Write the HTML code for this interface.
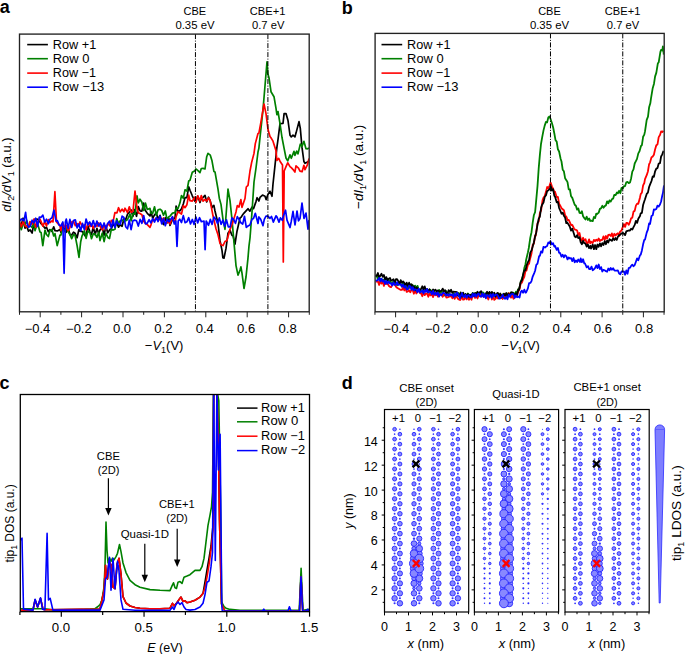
<!DOCTYPE html>
<html><head><meta charset="utf-8"><style>
html,body{margin:0;padding:0;background:#fff;overflow:hidden;}
svg{display:block;font-family:"Liberation Sans", sans-serif;}
</style></head><body>
<svg width="685" height="654" viewBox="0 0 685 654">
<rect width="685" height="654" fill="#fff"/>
<defs><clipPath id="ca"><rect x="19.5" y="34" width="289.5" height="277.8"/></clipPath><clipPath id="cb"><rect x="375.3" y="33.5" width="288.6" height="278"/></clipPath><clipPath id="cc"><rect x="20.3" y="394.5" width="289.2" height="216.8"/></clipPath></defs>
<path d="M19.5,227.4 L21.3,224.7 L23.1,218.2 L25.0,228.2 L26.7,226.1 L28.5,231.1 L30.0,229.8 L32.1,233.0 L33.9,223.5 L35.0,219.2 L37.5,219.2 L40.0,222.0 L41.1,223.7 L42.9,225.4 L45.0,228.2 L46.5,227.2 L48.3,231.7 L50.0,229.6 L51.9,231.3 L53.7,226.8 L55.0,230.6 L57.3,230.9 L60.0,229.5 L60.9,232.3 L62.7,226.9 L65.0,229.4 L66.3,232.3 L68.1,227.7 L70.0,234.8 L71.7,235.0 L73.5,232.1 L75.0,233.2 L77.1,237.8 L78.9,229.5 L80.0,231.1 L82.5,231.6 L85.0,235.7 L86.1,234.2 L87.9,226.1 L90.0,232.1 L91.5,234.5 L93.3,227.0 L95.1,234.7 L96.9,228.4 L98.7,233.5 L100.0,230.0 L102.3,227.9 L104.1,235.2 L105.9,226.0 L107.7,232.8 L110.0,229.4 L111.3,229.0 L113.1,224.0 L114.9,226.6 L116.7,222.9 L118.5,227.2 L120.0,224.7 L122.1,226.3 L123.9,218.8 L125.7,219.6 L127.5,214.2 L130.0,211.5 L131.1,209.9 L132.9,216.4 L134.7,209.6 L136.5,216.3 L138.3,206.5 L140.0,210.8 L141.9,211.1 L143.7,203.2 L145.0,210.0 L147.3,213.3 L150.0,216.0 L150.9,211.3 L152.7,218.4 L154.5,214.9 L156.3,213.0 L158.1,219.3 L160.0,215.3 L161.7,221.1 L163.5,224.5 L165.3,217.6 L167.1,223.0 L168.9,218.5 L170.0,225.5 L172.5,219.4 L175.0,218.0 L176.1,206.1 L177.9,211.4 L180.0,210.6 L181.5,208.9 L183.3,204.0 L185.0,197.6 L186.9,197.7 L188.7,186.8 L190.0,190.2 L192.3,195.8 L195.0,201.5 L195.9,201.3 L197.7,196.1 L200.0,202.5 L201.3,198.4 L203.1,197.4 L205.0,195.3 L206.7,202.0 L208.5,197.2 L210.0,200.3 L212.1,207.6 L213.9,205.3 L215.0,211.0 L218.0,223.5 L220.0,240.7 L222.0,250.4 L222.9,257.8 L224.0,258.2 L226.0,248.4 L228.0,233.1 L230.0,230.1 L231.9,235.3 L233.0,235.5 L235.0,244.1 L237.0,231.2 L240.0,218.0 L240.9,217.4 L242.7,214.8 L244.0,213.1 L246.3,210.6 L248.0,208.7 L249.9,211.2 L252.0,207.1 L253.5,208.6 L256.0,201.6 L257.1,197.7 L258.9,201.0 L260.0,197.4 L262.5,195.1 L265.0,196.3 L266.1,199.6 L267.9,194.6 L270.0,191.3 L272.0,196.3 L273.0,184.0 L275.0,165.3 L276.9,147.3 L278.0,139.5 L280.0,123.6 L283.0,123.4 L284.1,113.7 L286.0,113.5 L288.0,120.5 L290.0,135.2 L291.3,136.9 L293.0,135.2 L294.9,136.9 L296.0,133.1 L299.0,121.6 L300.3,128.4 L302.0,147.4 L303.9,161.5 L305.0,163.3 L307.5,161.9 L309.0,161.1" fill="none" stroke="#000" stroke-width="1.7" stroke-linejoin="round" clip-path="url(#ca)"/>
<path d="M19.5,223.8 L21.3,229.7 L23.1,223.9 L25.0,224.7 L26.7,220.3 L28.5,227.0 L30.0,225.3 L32.1,227.5 L33.9,222.7 L35.0,230.7 L37.5,223.3 L40.0,232.0 L41.1,232.5 L42.8,245.7 L45.0,230.0 L46.5,234.5 L48.3,236.5 L50.0,230.3 L51.9,229.5 L53.7,236.0 L55.0,233.6 L57.2,245.6 L60.0,235.0 L60.9,235.1 L62.7,228.1 L65.0,231.9 L66.3,226.8 L68.1,231.5 L70.0,234.7 L71.7,238.7 L73.5,234.6 L75.0,235.0 L77.1,245.6 L79.0,257.4 L80.7,241.7 L82.0,236.0 L84.3,230.8 L86.1,238.4 L87.9,230.8 L90.0,232.8 L91.5,238.7 L93.3,233.8 L95.1,234.0 L96.9,237.4 L98.7,232.2 L100.0,240.6 L102.3,233.0 L104.1,241.6 L105.9,233.4 L108.0,237.7 L109.5,238.5 L111.3,229.3 L113.1,230.1 L115.0,229.2 L116.7,218.5 L118.5,223.7 L120.0,221.0 L122.1,220.1 L123.9,220.7 L125.7,220.9 L127.5,219.5 L130.0,214.0 L131.1,220.8 L132.9,213.9 L135.0,214.2 L137.0,195.8 L138.3,203.0 L140.0,199.2 L141.9,202.3 L143.7,210.5 L145.5,203.2 L147.3,209.5 L150.0,208.4 L150.9,213.1 L152.7,213.3 L154.5,206.8 L156.3,215.3 L158.1,209.8 L160.0,209.2 L161.7,210.4 L163.5,215.2 L165.3,211.0 L167.1,219.6 L168.9,216.8 L170.0,216.1 L172.5,213.1 L175.0,212.7 L176.1,208.2 L178.0,208.5 L180.0,202.8 L181.5,195.5 L183.3,198.4 L185.0,189.8 L186.9,191.1 L188.7,181.0 L190.0,180.2 L192.3,172.3 L195.0,170.7 L195.9,168.9 L197.7,170.4 L200.0,172.6 L201.3,168.5 L203.1,168.4 L205.0,169.0 L206.7,156.7 L208.0,153.4 L210.3,155.2 L212.0,160.8 L213.9,171.4 L215.0,171.9 L218.0,189.1 L219.3,198.2 L221.0,204.4 L223.0,219.7 L225.0,229.3 L227.0,202.5 L228.0,189.1 L230.0,200.6 L232.0,219.7 L234.0,242.6 L236.0,265.6 L238.0,275.2 L240.0,270.1 L240.9,266.9 L242.0,273.2 L244.0,288.5 L246.0,277.0 L248.0,257.9 L249.0,245.9 L250.0,238.0 L252.0,212.0 L254.0,182.0 L256.0,168.0 L258.0,152.0 L258.9,148.1 L260.0,137.5 L263.0,109.6 L265.0,85.8 L267.0,61.9 L267.9,74.0 L269.0,77.8 L271.0,91.7 L274.0,96.7 L276.0,108.3 L276.9,114.7 L278.0,111.5 L280.0,123.6 L282.0,137.5 L284.0,147.9 L286.0,158.0 L287.7,160.9 L290.0,154.9 L291.3,158.3 L294.0,151.4 L294.9,155.3 L296.7,151.1 L298.0,153.9 L300.3,144.1 L302.0,146.5 L303.9,141.3 L306.0,148.7 L307.5,148.8 L309.0,147.9" fill="none" stroke="#008000" stroke-width="1.7" stroke-linejoin="round" clip-path="url(#ca)"/>
<path d="M19.5,221.5 L21.3,226.8 L23.1,221.5 L24.9,225.7 L26.7,227.0 L28.5,226.8 L30.0,221.6 L32.1,224.2 L33.9,219.1 L35.7,227.2 L37.5,222.1 L40.0,219.1 L41.1,221.6 L42.9,226.2 L44.7,221.6 L46.5,225.9 L48.3,219.6 L50.0,222.5 L51.9,220.9 L53.0,222.0 L54.9,191.7 L56.5,222.0 L60.0,225.9 L60.9,230.6 L62.7,222.9 L64.5,227.1 L66.3,225.5 L68.1,230.6 L70.0,227.3 L71.7,222.0 L73.5,221.2 L75.3,225.6 L77.1,223.6 L78.9,225.0 L80.0,221.8 L82.5,226.9 L84.3,224.8 L86.1,229.9 L87.9,222.9 L90.0,226.5 L91.5,224.4 L93.3,228.5 L95.1,224.1 L96.9,226.3 L98.7,222.9 L100.0,226.2 L102.3,229.9 L104.1,224.6 L105.9,229.5 L107.7,223.5 L110.0,226.0 L111.3,220.4 L113.1,221.6 L114.9,212.6 L117.0,212.8 L118.5,207.7 L120.3,211.9 L122.1,209.1 L123.9,211.7 L125.0,208.2 L127.5,212.6 L129.3,206.8 L131.1,212.2 L133.0,211.0 L135.0,191.2 L137.0,208.0 L138.3,212.9 L140.0,213.5 L141.9,214.8 L143.7,221.3 L145.0,223.0 L147.3,224.6 L150.0,227.3 L150.9,225.1 L152.7,219.6 L155.0,219.4 L156.3,218.1 L158.1,219.6 L160.0,219.6 L161.7,221.0 L163.5,218.0 L165.3,224.4 L167.1,221.7 L168.9,222.4 L170.0,224.0 L172.5,217.2 L175.0,223.0 L176.1,216.7 L177.9,211.8 L180.0,213.0 L181.5,214.1 L183.3,205.6 L185.0,207.7 L186.9,204.7 L188.7,195.2 L190.0,200.7 L192.3,201.1 L195.0,197.1 L195.9,202.4 L197.7,195.9 L200.0,200.8 L201.3,195.5 L203.1,201.2 L205.0,199.4 L206.7,201.0 L208.5,198.0 L210.0,200.2 L213.0,215.8 L213.9,219.7 L216.0,228.8 L218.0,234.8 L220.0,243.4 L221.1,244.7 L223.0,245.6 L225.0,241.5 L227.0,240.5 L228.3,235.4 L230.0,229.4 L231.9,224.7 L233.0,221.6 L236.0,211.9 L237.3,205.6 L239.0,207.0 L240.9,199.5 L242.0,207.3 L245.0,198.5 L246.3,187.0 L248.0,185.3 L250.0,171.0 L251.7,162.2 L254.0,153.4 L255.3,143.6 L258.0,133.5 L258.9,133.2 L260.7,123.4 L262.0,115.6 L264.0,104.0 L266.0,113.6 L268.0,129.5 L270.0,136.4 L271.5,138.6 L273.0,141.2 L276.0,150.8 L276.9,160.5 L278.7,158.3 L280.0,161.2 L282.5,165.0 L283.3,262.0 L284.2,171.0 L286.0,166.7 L287.7,162.8 L290.0,166.6 L291.3,167.7 L293.1,169.6 L294.9,172.1 L296.0,165.8 L298.5,168.1 L300.0,171.2 L302.1,171.7 L303.9,165.3 L305.0,169.7 L307.5,164.7 L309.0,158.4" fill="none" stroke="#ff0000" stroke-width="1.7" stroke-linejoin="round" clip-path="url(#ca)"/>
<path d="M19.5,221.2 L21.3,219.0 L24.0,220.7 L25.6,212.3 L27.0,223.5 L28.5,227.1 L30.3,226.3 L32.1,220.2 L33.9,222.9 L35.7,218.2 L37.5,226.5 L39.3,217.2 L41.1,217.3 L42.9,215.1 L44.7,222.1 L46.5,219.2 L48.3,223.8 L50.1,219.1 L52.0,217.7 L54.0,210.1 L56.0,221.2 L57.3,220.6 L59.1,224.9 L60.9,225.9 L62.8,222.0 L64.1,273.3 L65.4,222.0 L66.3,219.1 L68.1,228.3 L69.9,219.4 L71.7,227.3 L73.5,220.6 L75.3,219.8 L77.1,227.9 L78.9,224.0 L80.7,230.7 L82.5,223.4 L84.3,229.4 L86.1,219.0 L87.9,225.0 L89.7,221.9 L91.5,226.1 L93.3,220.5 L95.1,226.9 L96.9,221.0 L98.7,226.0 L100.5,223.0 L102.3,227.8 L104.1,223.0 L105.9,228.9 L107.7,223.6 L109.5,221.2 L111.3,227.9 L113.1,219.8 L114.9,227.5 L116.7,220.8 L118.5,224.4 L120.3,224.2 L122.1,216.2 L123.9,217.4 L125.7,226.7 L127.5,228.8 L129.3,220.1 L131.1,229.7 L132.9,220.7 L134.7,220.1 L136.5,220.7 L138.3,226.1 L140.1,219.4 L141.9,223.3 L143.7,215.6 L145.5,223.9 L147.3,223.1 L149.1,219.7 L150.9,222.8 L152.7,218.6 L154.5,222.1 L156.3,217.7 L158.1,221.6 L159.9,216.0 L161.7,223.9 L163.5,218.7 L165.3,225.7 L167.1,219.3 L168.9,221.7 L170.7,219.2 L172.5,216.7 L174.3,224.0 L175.8,221.0 L177.0,246.4 L178.2,221.0 L179.7,219.2 L181.5,222.5 L183.3,215.6 L185.1,222.7 L186.9,221.8 L188.7,217.7 L190.5,224.0 L192.3,219.5 L194.1,224.4 L195.9,217.1 L197.7,222.9 L199.5,217.7 L201.3,221.7 L204.0,221.0 L205.1,249.6 L206.2,221.0 L208.5,225.3 L210.3,219.4 L212.1,224.4 L213.9,217.0 L215.7,219.0 L217.5,223.5 L219.3,217.9 L221.1,224.3 L222.9,220.1 L224.7,226.3 L226.5,219.9 L228.3,226.9 L230.1,226.8 L231.9,217.9 L233.7,219.5 L235.5,223.4 L237.3,216.6 L240.0,221.1 L240.9,222.8 L242.7,224.1 L244.5,216.3 L246.3,227.3 L248.0,226.0 L249.9,225.0 L252.0,219.2 L253.5,218.5 L255.3,213.3 L258.0,223.5 L258.9,216.9 L260.7,219.3 L263.0,225.7 L264.3,219.3 L266.0,216.2 L267.9,216.2 L270.0,218.3 L271.5,216.5 L273.3,222.1 L276.0,215.8 L276.9,216.9 L279.0,222.1 L280.5,217.9 L282.3,220.3 L283.5,215.7 L285.5,210.2 L287.0,220.1 L290.0,227.5 L291.3,221.2 L293.0,211.4 L295.0,224.9 L297.0,211.0 L298.5,220.8 L300.0,218.5 L302.0,203.0 L304.0,218.5 L306.0,213.1 L308.0,229.2 L309.0,219.9" fill="none" stroke="#0000ff" stroke-width="1.7" stroke-linejoin="round" clip-path="url(#ca)"/>
<path d="M375.5,276.6 L376.7,275.6 L377.9,279.5 L379.1,279.2 L380.3,278.6 L381.5,281.3 L382.7,279.6 L383.9,281.0 L385.1,277.8 L386.3,280.6 L387.5,278.8 L388.7,282.3 L390.0,280.2 L391.1,283.1 L392.3,284.0 L393.5,280.4 L394.7,283.5 L395.9,282.7 L397.1,285.4 L398.3,282.6 L400.0,282.5 L400.7,284.0 L401.9,286.6 L403.1,283.0 L404.3,286.5 L405.5,284.7 L406.7,287.1 L407.9,287.3 L409.1,288.0 L410.3,284.4 L411.5,288.5 L412.7,285.0 L413.9,288.0 L415.1,285.6 L416.3,288.1 L417.5,285.9 L418.7,289.6 L420.0,290.6 L421.1,291.2 L422.3,292.1 L423.5,289.2 L424.7,289.5 L425.9,289.5 L427.1,290.3 L428.3,292.6 L429.5,289.7 L430.7,290.2 L431.9,292.7 L433.1,292.4 L434.3,291.6 L435.5,293.4 L436.7,291.9 L437.9,293.9 L439.1,289.9 L440.0,294.1 L441.5,291.5 L442.7,291.8 L443.9,295.7 L445.1,294.9 L446.3,291.2 L447.5,295.3 L448.7,293.4 L449.9,294.2 L451.1,294.8 L452.3,295.1 L453.5,293.7 L454.7,296.3 L455.9,294.1 L457.1,295.2 L458.3,293.0 L460.0,294.5 L460.7,295.3 L461.9,297.9 L463.1,294.3 L464.3,296.0 L465.5,294.5 L466.7,295.9 L467.9,293.5 L469.1,295.1 L470.3,295.0 L471.5,296.3 L472.7,293.0 L473.9,293.7 L475.1,297.1 L476.3,292.7 L477.5,296.8 L478.7,294.4 L479.9,292.8 L481.1,295.8 L482.3,292.4 L483.5,292.7 L484.7,296.6 L485.9,293.3 L487.1,293.2 L488.3,296.6 L489.5,294.1 L490.7,295.0 L491.9,296.9 L493.1,293.6 L494.3,296.3 L495.5,297.0 L496.7,297.0 L497.9,294.4 L499.1,297.4 L500.3,294.1 L501.5,298.0 L502.7,294.3 L503.9,296.8 L505.1,296.7 L506.3,295.8 L507.5,293.7 L508.7,293.1 L509.9,295.4 L511.1,292.4 L512.3,295.3 L513.5,292.7 L515.0,294.7 L515.9,291.7 L517.1,292.6 L518.0,289.5 L519.5,288.0 L520.7,281.9 L521.8,279.0 L523.1,275.7 L524.3,268.1 L525.5,264.2 L526.1,260.0 L527.9,252.4 L528.8,248.0 L530.3,237.6 L531.5,232.2 L532.7,222.7 L533.9,215.0 L535.1,212.2 L535.7,205.9 L537.5,186.1 L538.7,168.4 L539.9,154.7 L541.0,144.0 L542.3,136.6 L543.5,130.4 L544.7,125.6 L545.9,122.0 L547.1,122.4 L548.3,117.5 L549.5,116.5 L550.3,118.3 L551.9,123.0 L553.1,127.3 L554.5,134.3 L555.5,140.2 L556.7,141.6 L557.9,149.3 L559.1,151.5 L560.6,158.7 L561.5,161.5 L562.7,169.7 L563.9,171.3 L565.1,178.2 L566.7,180.7 L567.5,182.2 L568.7,189.3 L569.9,189.5 L571.1,196.3 L572.3,197.9 L574.0,202.8 L574.7,204.8 L575.9,205.8 L577.1,209.7 L578.3,208.4 L579.5,212.8 L580.7,213.2 L581.9,211.2 L583.1,216.2 L583.8,217.4 L585.5,219.5 L586.7,216.7 L587.9,220.0 L589.1,218.5 L590.3,221.0 L591.2,220.7 L592.7,221.2 L593.9,217.0 L595.1,218.1 L596.3,213.6 L597.0,214.2 L598.7,212.6 L599.9,208.9 L601.0,208.4 L602.3,205.8 L603.5,207.7 L605.0,205.9 L605.9,205.4 L607.1,201.3 L608.3,203.3 L609.5,200.4 L610.7,201.6 L612.0,199.1 L613.1,198.7 L614.3,194.8 L615.5,195.2 L617.0,192.5 L617.9,193.4 L619.1,190.8 L620.3,193.2 L621.5,188.0 L623.0,188.2 L623.9,186.1 L625.1,186.1 L626.3,182.3 L627.5,181.9 L628.7,183.2 L630.0,182.5 L631.1,178.4 L632.3,171.7 L633.5,169.4 L634.7,163.5 L635.9,161.1 L637.0,158.9 L638.3,153.4 L639.5,151.3 L641.0,146.0 L641.9,145.1 L643.1,136.8 L644.3,134.6 L645.0,131.4 L646.7,119.8 L648.0,116.7 L649.1,107.3 L650.3,103.3 L651.0,98.3 L652.7,88.2 L654.0,83.7 L655.1,76.4 L656.3,72.9 L657.8,63.6 L658.7,62.3 L660.4,51.8 L661.1,49.9 L662.3,50.5 L662.9,46.3 L663.8,54.6" fill="none" stroke="#008000" stroke-width="1.8" stroke-linejoin="round" clip-path="url(#cb)"/>
<path d="M375.5,281.5 L376.7,281.5 L377.9,281.3 L379.1,284.9 L380.3,280.7 L381.5,283.6 L382.7,281.3 L383.9,285.9 L385.1,282.2 L386.3,284.0 L387.5,283.3 L388.7,285.7 L390.0,286.8 L391.1,287.2 L392.3,284.5 L393.5,284.3 L394.7,283.8 L395.9,286.6 L397.1,287.8 L398.3,288.5 L400.0,289.5 L400.7,289.9 L401.9,289.9 L403.1,287.3 L404.3,290.5 L405.5,287.5 L406.7,291.9 L407.9,291.4 L409.1,290.2 L410.3,292.3 L411.5,289.7 L412.7,290.3 L413.9,293.7 L415.1,289.5 L416.3,293.5 L417.5,290.9 L418.7,291.1 L420.0,293.1 L421.1,293.4 L422.3,296.2 L423.5,292.3 L424.7,295.1 L425.9,293.7 L427.1,293.6 L428.3,296.8 L429.5,293.6 L430.7,295.4 L431.9,294.0 L433.1,297.1 L434.3,292.7 L435.5,295.2 L436.7,292.9 L437.9,296.6 L439.1,295.1 L440.0,294.1 L441.5,294.4 L442.7,296.8 L443.9,293.3 L445.1,294.3 L446.3,297.5 L447.5,297.4 L448.7,296.7 L449.9,296.7 L451.1,294.9 L452.3,298.3 L453.5,295.4 L454.7,298.9 L455.9,295.8 L457.1,297.5 L458.3,299.1 L460.0,300.0 L460.7,299.3 L461.9,295.7 L463.1,299.7 L464.3,299.3 L465.5,296.4 L466.7,299.3 L467.9,297.1 L469.1,299.8 L470.3,296.6 L471.5,299.7 L472.7,294.8 L473.9,294.9 L475.1,298.0 L476.3,295.3 L477.5,298.5 L478.7,294.5 L479.9,294.3 L481.1,296.7 L482.3,293.6 L483.5,296.4 L484.7,295.9 L485.9,297.7 L487.1,296.1 L488.3,299.5 L489.5,295.1 L490.7,295.6 L491.9,299.5 L493.1,296.1 L494.3,299.9 L495.5,298.8 L496.7,296.5 L497.9,298.5 L499.1,295.0 L500.3,298.5 L501.5,295.0 L502.7,299.0 L503.9,295.3 L505.1,298.3 L506.3,294.4 L507.5,297.1 L508.7,293.2 L509.9,294.3 L511.1,297.7 L512.3,295.4 L513.5,298.7 L515.0,296.2 L515.9,294.9 L517.1,295.8 L518.0,292.0 L519.5,289.3 L520.7,283.3 L521.9,282.7 L523.2,279.0 L524.3,276.8 L525.5,270.9 L526.5,270.6 L527.9,264.8 L529.1,263.6 L529.8,260.0 L531.5,253.5 L532.7,244.9 L533.9,243.6 L535.1,235.3 L535.7,235.7 L537.5,223.3 L538.7,221.5 L539.9,212.9 L541.1,210.4 L542.6,200.0 L543.5,197.7 L544.7,196.0 L545.9,192.1 L547.2,187.0 L548.3,188.1 L549.5,185.9 L550.6,182.6 L551.9,186.3 L553.1,188.6 L554.3,192.5 L555.0,191.7 L556.7,197.0 L557.9,197.0 L559.1,203.7 L560.0,205.2 L561.5,208.2 L562.7,209.2 L563.9,210.2 L565.1,215.3 L566.7,217.4 L567.5,220.2 L568.7,219.8 L569.9,222.4 L571.1,225.2 L572.3,225.0 L574.0,228.4 L574.7,229.4 L575.9,229.8 L577.1,230.5 L578.3,235.0 L579.5,233.0 L580.7,238.6 L581.9,240.9 L583.1,237.8 L584.0,240.7 L585.5,239.1 L586.7,243.4 L587.9,242.9 L589.1,239.4 L590.3,243.4 L591.0,241.7 L592.7,243.0 L593.9,239.9 L595.1,241.2 L596.3,239.6 L597.5,240.8 L598.7,238.5 L599.9,241.0 L601.0,240.0 L602.3,239.8 L603.5,236.4 L604.7,239.9 L605.9,236.0 L607.1,238.6 L608.3,234.9 L609.5,234.7 L611.0,236.0 L611.9,233.4 L613.1,237.3 L614.3,233.8 L615.5,235.6 L616.7,234.0 L617.9,233.3 L619.1,236.0 L620.0,231.7 L621.5,230.6 L623.0,226.4 L623.9,224.2 L625.1,226.9 L626.3,223.0 L627.5,223.0 L628.7,224.8 L630.0,222.0 L631.1,218.3 L632.3,217.7 L633.5,211.6 L634.7,210.9 L635.9,205.6 L637.1,203.6 L638.3,203.8 L640.0,197.4 L640.7,194.1 L641.9,192.7 L643.1,185.3 L644.3,183.0 L645.0,179.1 L646.7,175.2 L647.9,171.5 L649.1,164.2 L650.0,162.6 L651.5,157.2 L652.7,156.6 L653.9,154.8 L655.0,149.7 L656.3,145.2 L657.5,144.4 L658.7,137.1 L660.0,135.0 L661.1,131.4 L662.3,132.0 L663.5,130.8" fill="none" stroke="#ff0000" stroke-width="1.8" stroke-linejoin="round" clip-path="url(#cb)"/>
<path d="M375.5,275.3 L376.7,275.8 L377.9,273.0 L379.1,277.4 L380.3,275.9 L381.5,273.7 L382.7,276.8 L383.9,274.9 L385.1,279.2 L386.3,277.1 L387.5,280.5 L388.7,278.7 L390.0,278.0 L391.1,280.6 L392.3,280.0 L393.5,279.3 L394.7,283.0 L395.9,279.2 L397.1,279.2 L398.3,281.2 L400.0,284.0 L400.7,280.1 L401.9,282.6 L403.1,281.4 L404.3,282.8 L405.5,285.6 L406.7,282.7 L407.9,286.0 L409.1,282.7 L410.3,286.4 L411.5,284.2 L412.7,286.8 L413.9,286.3 L415.1,290.3 L416.3,287.5 L417.5,288.1 L418.7,289.6 L420.0,289.7 L421.1,288.9 L422.3,286.3 L423.5,289.1 L424.7,286.4 L425.9,290.5 L427.1,289.0 L428.3,292.1 L429.5,289.3 L430.7,292.5 L431.9,292.0 L433.1,289.5 L434.3,290.6 L435.5,289.6 L436.7,291.6 L437.9,290.4 L439.1,291.3 L440.0,291.3 L441.5,290.6 L442.7,288.6 L443.9,291.3 L445.1,290.2 L446.3,293.2 L447.5,293.5 L448.7,290.1 L449.9,292.1 L451.1,289.7 L452.3,292.9 L453.5,291.6 L454.7,291.8 L455.9,291.8 L457.1,292.3 L458.3,296.1 L460.0,296.0 L460.7,292.5 L461.9,296.7 L463.1,292.6 L464.3,296.4 L465.5,293.9 L466.7,295.8 L467.9,294.0 L469.1,297.0 L470.0,294.7 L471.5,295.8 L472.7,293.2 L473.9,296.2 L475.1,292.9 L476.3,294.9 L477.5,291.8 L478.7,293.5 L479.9,292.2 L481.1,291.2 L482.3,294.8 L483.5,296.3 L484.7,296.0 L485.9,293.8 L487.1,291.8 L488.3,294.2 L489.5,291.9 L490.7,294.4 L491.9,291.9 L493.1,294.2 L494.3,292.7 L495.5,296.7 L496.7,293.5 L497.9,292.9 L499.1,296.1 L500.3,293.5 L501.5,296.3 L502.7,296.6 L503.9,293.6 L505.1,295.5 L506.3,293.0 L507.5,296.0 L508.7,294.0 L509.9,296.0 L511.1,292.4 L512.3,292.4 L513.5,293.8 L515.0,295.5 L515.9,293.2 L517.1,294.7 L518.3,289.7 L519.0,289.8 L520.7,281.9 L522.0,280.0 L523.1,274.4 L524.3,270.5 L525.5,270.3 L526.7,265.1 L528.0,262.0 L529.1,259.8 L530.3,252.5 L531.5,250.4 L532.7,246.6 L533.9,242.2 L535.0,237.0 L536.3,232.2 L537.5,224.5 L538.7,218.8 L539.9,216.5 L541.1,207.8 L542.0,205.0 L543.5,202.5 L544.7,197.0 L546.0,195.3 L547.1,191.3 L548.3,190.4 L550.0,188.7 L550.7,186.0 L551.9,190.5 L553.1,189.1 L554.3,195.7 L555.0,196.6 L556.7,202.3 L557.9,201.9 L559.1,207.8 L560.0,210.0 L561.5,213.7 L562.7,212.7 L563.9,215.7 L565.1,217.6 L566.3,223.2 L567.0,222.3 L568.7,224.8 L569.9,226.9 L571.1,230.6 L572.3,228.8 L574.0,234.1 L574.7,236.4 L575.9,237.2 L577.1,235.1 L578.3,238.1 L579.5,237.1 L580.7,242.3 L581.9,244.2 L583.1,240.9 L584.0,242.9 L585.5,243.6 L586.7,246.6 L587.9,244.5 L589.1,248.1 L590.3,245.9 L591.0,248.6 L592.7,244.6 L593.9,249.2 L595.1,245.0 L596.3,249.2 L597.5,244.5 L598.7,246.7 L599.9,243.4 L601.0,246.3 L602.3,243.1 L603.5,245.1 L604.7,241.2 L605.9,244.2 L607.1,240.6 L608.3,242.5 L609.5,239.2 L611.0,240.2 L611.9,240.9 L613.1,238.4 L614.3,240.1 L615.5,238.0 L616.7,239.9 L617.9,236.7 L619.1,235.1 L620.0,235.0 L621.5,233.4 L623.0,233.0 L623.9,233.7 L625.1,235.1 L626.3,231.4 L627.5,230.9 L628.7,230.5 L630.0,230.5 L631.1,228.8 L632.3,229.6 L633.5,227.1 L634.7,224.9 L635.9,220.8 L637.1,222.9 L638.3,218.7 L640.0,216.0 L640.7,213.3 L641.9,212.9 L643.1,205.0 L644.3,201.2 L645.0,199.3 L646.7,193.9 L647.9,192.6 L649.1,187.0 L650.0,184.6 L651.5,181.0 L652.7,176.5 L653.9,176.8 L655.0,171.7 L656.3,168.6 L657.5,168.1 L658.7,163.6 L660.0,163.2 L661.1,156.5 L662.3,154.4 L663.5,150.9" fill="none" stroke="#000" stroke-width="1.8" stroke-linejoin="round" clip-path="url(#cb)"/>
<path d="M375.5,280.0 L376.7,280.7 L377.9,280.0 L379.1,277.9 L380.3,281.3 L381.5,278.6 L382.7,281.6 L383.9,280.4 L385.1,283.9 L386.3,280.8 L387.5,283.7 L388.7,281.4 L390.0,283.6 L391.1,283.1 L392.3,285.5 L393.5,282.4 L394.7,284.9 L395.9,284.7 L397.1,282.2 L398.3,285.0 L400.0,284.5 L400.7,284.1 L401.9,286.5 L403.1,284.5 L404.3,287.6 L405.5,285.9 L406.7,289.4 L407.9,289.3 L409.1,285.8 L410.3,286.3 L411.5,289.8 L412.7,287.1 L413.9,290.4 L415.1,289.2 L416.3,289.8 L417.5,292.3 L418.7,288.6 L420.0,292.5 L421.1,291.8 L422.3,290.2 L423.5,293.5 L424.7,290.1 L425.9,292.0 L427.1,289.0 L428.3,292.5 L429.5,291.3 L430.7,291.9 L431.9,294.3 L433.1,290.9 L434.3,294.7 L435.5,292.6 L436.7,294.9 L437.9,292.5 L439.1,296.7 L440.0,294.1 L441.5,295.2 L442.7,292.9 L443.9,292.9 L445.1,293.7 L446.3,295.5 L447.5,294.1 L448.7,295.7 L449.9,294.0 L451.1,295.4 L452.3,294.3 L453.5,297.2 L454.7,293.8 L455.9,296.0 L457.1,292.6 L458.3,294.7 L460.0,298.4 L460.7,296.3 L461.9,293.2 L463.1,296.2 L464.3,297.0 L465.5,294.8 L466.7,297.7 L467.9,295.3 L469.1,295.2 L470.3,297.0 L471.5,297.4 L472.7,293.7 L473.9,296.3 L475.1,294.0 L476.3,296.7 L477.5,294.3 L478.7,293.5 L479.9,296.3 L481.1,296.6 L482.3,293.4 L483.5,297.0 L484.7,294.0 L485.9,298.3 L487.1,295.1 L488.3,295.3 L489.5,297.2 L490.7,294.3 L491.9,297.8 L493.1,293.9 L494.3,296.2 L495.5,294.9 L496.7,294.5 L497.9,295.6 L499.1,298.6 L500.3,297.9 L501.5,297.2 L502.7,294.8 L503.9,297.9 L505.1,298.8 L506.3,296.7 L507.5,299.3 L508.7,294.6 L509.9,296.7 L511.1,294.4 L512.3,294.0 L513.5,294.2 L514.7,297.9 L515.9,295.4 L517.1,297.3 L518.8,296.5 L519.5,297.5 L520.7,292.1 L521.9,290.7 L523.1,292.8 L524.3,289.7 L525.5,292.6 L526.1,292.5 L527.9,288.4 L529.1,283.1 L530.5,282.8 L531.5,281.1 L532.7,276.6 L534.2,273.1 L535.1,270.7 L536.3,264.9 L537.5,263.6 L539.1,256.3 L539.9,255.7 L541.1,251.3 L542.3,252.5 L543.5,246.8 L545.0,247.5 L545.9,246.7 L547.1,246.0 L548.3,242.5 L549.5,243.2 L550.4,241.2 L551.9,244.4 L553.1,243.2 L554.3,246.5 L555.0,245.9 L556.7,249.9 L557.9,247.9 L559.1,252.9 L560.0,252.9 L561.5,256.6 L562.7,254.8 L563.9,257.4 L565.0,255.1 L566.3,256.1 L567.5,259.4 L568.7,257.5 L570.0,258.5 L571.1,258.1 L572.3,261.1 L573.5,258.0 L574.7,262.3 L575.9,260.4 L577.1,262.0 L578.3,259.5 L580.0,262.0 L580.7,258.5 L581.9,262.2 L583.1,259.3 L584.3,263.4 L585.0,263.5 L586.7,267.4 L588.0,266.2 L589.1,269.0 L590.3,269.1 L591.5,266.6 L592.7,270.3 L593.9,269.3 L595.0,268.2 L596.3,265.4 L597.5,268.1 L598.7,264.5 L599.9,269.1 L601.1,267.1 L602.3,271.5 L603.5,269.8 L605.0,270.5 L605.9,271.2 L607.1,271.7 L608.3,268.5 L609.5,270.3 L610.7,268.0 L611.9,269.7 L613.1,268.3 L614.3,270.3 L615.0,270.7 L616.7,270.6 L617.9,270.5 L619.1,273.4 L620.3,274.2 L621.5,271.5 L623.0,271.6 L623.9,271.4 L625.1,274.7 L626.3,270.4 L627.5,273.7 L628.7,268.2 L630.0,267.7 L631.1,265.9 L632.3,264.7 L633.5,266.2 L634.7,265.0 L636.0,261.5 L637.1,258.4 L638.3,260.3 L640.0,255.2 L640.7,254.8 L641.9,250.4 L643.1,244.3 L644.3,239.8 L645.0,239.6 L646.7,232.6 L647.9,229.6 L649.1,223.3 L650.0,224.0 L651.5,216.0 L652.7,215.3 L653.9,209.5 L655.0,209.7 L656.3,209.0 L657.5,205.6 L658.7,206.6 L660.0,204.5 L661.1,201.5 L662.3,195.4 L663.0,192.6 L664.0,185.5" fill="none" stroke="#0000ff" stroke-width="1.8" stroke-linejoin="round" clip-path="url(#cb)"/>
<path d="M20.8,610.3 L33.0,609.8 L35.1,600.0 L37.6,607.0 L40.5,598.5 L43.0,609.3 L45.0,609.8 L100.0,609.0 L104.0,590.3 L105.5,565.4 L106.5,577.4 L107.5,579.0 L109.0,561.4 L111.0,564.6 L113.0,587.1 L115.0,588.7 L117.0,564.6 L119.0,558.2 L121.0,574.2 L123.0,596.7 L126.0,603.0 L130.0,606.0 L135.0,607.5 L140.0,608.2 L150.0,608.7 L160.0,608.8 L170.0,608.2 L172.5,603.3 L174.0,605.8 L176.0,603.9 L180.0,598.3 L181.0,597.1 L183.0,601.4 L185.0,600.8 L187.0,602.7 L190.0,602.0 L195.0,600.2 L200.0,597.1 L203.0,593.4 L205.0,582.0 L207.0,570.0 L209.0,558.4 L211.0,546.0 L213.0,525.0 L213.7,390.0 L216.9,390.0 L218.3,438.3 L219.5,520.0 L221.5,604.0 L225.0,611.0 L299.5,611.0 L301.0,576.8 L302.7,611.0 L309.0,611.0" fill="none" stroke="#000" stroke-width="1.6" stroke-linejoin="round" clip-path="url(#cc)"/>
<path d="M20.8,608.7 L45.0,608.7 L55.0,610.3 L62.0,609.8 L70.0,610.3 L80.0,610.1 L90.0,609.3 L95.0,608.7 L98.0,606.5 L100.0,604.7 L102.0,599.9 L104.0,587.1 L105.0,566.2 L106.0,522.0 L107.0,550.1 L108.0,563.0 L109.5,558.2 L111.0,561.4 L112.5,558.2 L114.0,559.8 L116.0,556.6 L117.5,553.3 L119.5,544.5 L121.0,551.7 L123.0,563.0 L126.0,572.6 L130.0,580.3 L135.0,584.7 L140.0,587.2 L150.0,589.6 L160.0,590.3 L170.0,590.6 L172.0,585.9 L173.5,582.8 L175.0,587.8 L176.5,588.4 L178.0,582.2 L180.0,581.6 L182.0,583.4 L184.0,577.2 L187.0,576.0 L190.0,574.7 L195.0,570.4 L200.0,570.4 L202.0,566.7 L204.0,558.4 L206.0,541.9 L208.0,525.4 L210.0,515.1 L211.5,506.8 L212.5,492.4 L213.5,390.0 L216.9,390.0 L218.8,400.7 L220.5,500.0 L221.7,601.8 L222.5,603.5 L224.0,606.5 L226.0,608.2 L230.0,609.4 L240.0,610.2 L290.0,610.4 L298.0,610.4 L299.2,610.3 L301.1,568.4 L303.0,610.3 L309.0,609.3" fill="none" stroke="#008000" stroke-width="1.6" stroke-linejoin="round" clip-path="url(#cc)"/>
<path d="M20.8,610.3 L33.0,609.8 L35.1,600.0 L37.6,607.0 L40.5,598.5 L43.0,609.3 L45.0,609.8 L100.0,609.0 L104.0,590.3 L105.5,565.4 L106.5,577.4 L107.5,579.0 L109.0,561.4 L111.0,564.6 L113.0,587.1 L115.0,588.7 L117.0,564.6 L119.0,558.2 L121.0,574.2 L123.0,596.7 L126.0,603.0 L130.0,606.0 L135.0,607.5 L140.0,608.2 L150.0,608.7 L160.0,608.8 L170.0,608.2 L172.5,603.3 L174.0,605.8 L176.0,603.9 L180.0,598.3 L181.0,597.1 L183.0,601.4 L185.0,600.8 L187.0,602.7 L190.0,602.0 L195.0,600.2 L200.0,597.1 L203.0,593.4 L205.0,587.2 L207.0,577.2 L209.0,564.8 L211.0,550.2 L213.0,530.0 L213.7,390.0 L216.9,390.0 L218.3,438.3 L219.5,520.0 L221.5,604.0 L225.0,611.0 L299.5,611.0 L301.0,576.8 L302.7,611.0 L309.0,611.0" fill="none" stroke="#ff0000" stroke-width="1.6" stroke-linejoin="round" clip-path="url(#cc)"/>
<path d="M20.5,540.0 L22.0,538.2 L23.5,609.1 L33.0,610.1 L35.1,599.2 L37.6,607.0 L40.5,597.7 L42.5,609.1 L44.9,609.6 L47.1,533.4 L48.5,600.0 L50.2,598.4 L52.9,610.1 L100.0,610.1 L104.0,599.9 L105.5,579.0 L107.0,577.4 L109.5,557.4 L111.0,590.3 L113.0,558.2 L115.0,588.7 L117.5,561.4 L119.0,571.0 L121.0,599.9 L123.0,609.3 L135.0,610.3 L170.0,610.3 L172.5,607.0 L174.0,609.5 L176.0,604.5 L178.0,602.0 L180.0,604.5 L182.0,602.7 L184.0,607.0 L186.0,609.5 L190.0,610.1 L195.0,609.5 L200.0,607.0 L203.0,603.3 L205.0,594.6 L207.0,582.2 L209.0,581.0 L211.0,566.7 L212.5,552.3 L213.7,390.0 L215.3,560.5 L216.9,390.0 L218.4,470.0 L220.1,434.2 L221.8,606.0 L222.3,611.0 L225.0,611.0 L262.5,611.0 L263.8,609.2 L265.0,611.0 L288.0,611.0 L289.4,606.7 L291.0,611.0 L299.5,611.0 L301.0,576.8 L302.7,611.0 L306.0,611.0 L307.6,609.3 L309.0,611.0" fill="none" stroke="#0000ff" stroke-width="1.6" stroke-linejoin="round" clip-path="url(#cc)"/>
<line x1="195.45" y1="34.10" x2="195.45" y2="311.80" stroke="#000" stroke-width="1" stroke-dasharray="5,1.5,1,1.5"/>
<line x1="267.90" y1="34.10" x2="267.90" y2="311.80" stroke="#000" stroke-width="1" stroke-dasharray="5,1.5,1,1.5"/>
<line x1="19.50" y1="311.80" x2="19.50" y2="314.80" stroke="#222" stroke-width="1"/>
<line x1="40.20" y1="311.80" x2="40.20" y2="317.30" stroke="#222" stroke-width="1"/>
<line x1="60.90" y1="311.80" x2="60.90" y2="314.80" stroke="#222" stroke-width="1"/>
<line x1="81.60" y1="311.80" x2="81.60" y2="317.30" stroke="#222" stroke-width="1"/>
<line x1="102.30" y1="311.80" x2="102.30" y2="314.80" stroke="#222" stroke-width="1"/>
<line x1="123.00" y1="311.80" x2="123.00" y2="317.30" stroke="#222" stroke-width="1"/>
<line x1="143.70" y1="311.80" x2="143.70" y2="314.80" stroke="#222" stroke-width="1"/>
<line x1="164.40" y1="311.80" x2="164.40" y2="317.30" stroke="#222" stroke-width="1"/>
<line x1="185.10" y1="311.80" x2="185.10" y2="314.80" stroke="#222" stroke-width="1"/>
<line x1="205.80" y1="311.80" x2="205.80" y2="317.30" stroke="#222" stroke-width="1"/>
<line x1="226.50" y1="311.80" x2="226.50" y2="314.80" stroke="#222" stroke-width="1"/>
<line x1="247.20" y1="311.80" x2="247.20" y2="317.30" stroke="#222" stroke-width="1"/>
<line x1="267.90" y1="311.80" x2="267.90" y2="314.80" stroke="#222" stroke-width="1"/>
<line x1="288.60" y1="311.80" x2="288.60" y2="317.30" stroke="#222" stroke-width="1"/>
<line x1="309.30" y1="311.80" x2="309.30" y2="314.80" stroke="#222" stroke-width="1"/>
<rect x="19.50" y="34.10" width="289.70" height="277.70" fill="none" stroke="#222" stroke-width="1.35"/>
<text x="37.50" y="332.90" font-size="12" text-anchor="middle" textLength="25.60" lengthAdjust="spacingAndGlyphs">−0.4</text>
<text x="78.90" y="332.90" font-size="12" text-anchor="middle" textLength="25.60" lengthAdjust="spacingAndGlyphs">−0.2</text>
<text x="122.00" y="332.90" font-size="12" text-anchor="middle" textLength="18.20" lengthAdjust="spacingAndGlyphs">0.0</text>
<text x="163.40" y="332.90" font-size="12" text-anchor="middle" textLength="18.20" lengthAdjust="spacingAndGlyphs">0.2</text>
<text x="204.80" y="332.90" font-size="12" text-anchor="middle" textLength="18.20" lengthAdjust="spacingAndGlyphs">0.4</text>
<text x="246.20" y="332.90" font-size="12" text-anchor="middle" textLength="18.20" lengthAdjust="spacingAndGlyphs">0.6</text>
<text x="287.60" y="332.90" font-size="12" text-anchor="middle" textLength="18.20" lengthAdjust="spacingAndGlyphs">0.8</text>
<text x="194.90" y="15.30" font-size="11.5" text-anchor="middle" textLength="22.60" lengthAdjust="spacingAndGlyphs">CBE</text>
<text x="195.00" y="28.90" font-size="11.5" text-anchor="middle" textLength="39.20" lengthAdjust="spacingAndGlyphs">0.35 eV</text>
<text x="267.60" y="15.30" font-size="11.5" text-anchor="middle" textLength="35.50" lengthAdjust="spacingAndGlyphs">CBE+1</text>
<text x="268.20" y="28.90" font-size="11.5" text-anchor="middle" textLength="32.30" lengthAdjust="spacingAndGlyphs">0.7 eV</text>
<text x="144.80" y="350.3" font-size="13">−<tspan font-style="italic">V</tspan><tspan font-size="9" dy="3">1</tspan><tspan dy="-3">(V)</tspan></text>
<line x1="27.20" y1="44.60" x2="47.90" y2="44.60" stroke="#000" stroke-width="1.6"/>
<text x="52.80" y="48.80" font-size="12.5" text-anchor="start" textLength="43.40" lengthAdjust="spacingAndGlyphs">Row +1</text>
<line x1="27.20" y1="58.70" x2="47.90" y2="58.70" stroke="#008000" stroke-width="1.6"/>
<text x="52.80" y="62.90" font-size="12.5" text-anchor="start" textLength="36.60" lengthAdjust="spacingAndGlyphs">Row 0</text>
<line x1="27.20" y1="73.10" x2="47.90" y2="73.10" stroke="#ff0000" stroke-width="1.6"/>
<text x="52.80" y="77.30" font-size="12.5" text-anchor="start" textLength="43.10" lengthAdjust="spacingAndGlyphs">Row −1</text>
<line x1="27.20" y1="87.20" x2="47.90" y2="87.20" stroke="#0000ff" stroke-width="1.6"/>
<text x="52.80" y="91.40" font-size="12.5" text-anchor="start" textLength="51.30" lengthAdjust="spacingAndGlyphs">Row −13</text>
<line x1="550.48" y1="33.40" x2="550.48" y2="311.80" stroke="#000" stroke-width="1" stroke-dasharray="5,1.5,1,1.5"/>
<line x1="622.75" y1="33.40" x2="622.75" y2="311.80" stroke="#000" stroke-width="1" stroke-dasharray="5,1.5,1,1.5"/>
<line x1="374.95" y1="311.80" x2="374.95" y2="314.80" stroke="#222" stroke-width="1"/>
<line x1="395.60" y1="311.80" x2="395.60" y2="317.30" stroke="#222" stroke-width="1"/>
<line x1="416.25" y1="311.80" x2="416.25" y2="314.80" stroke="#222" stroke-width="1"/>
<line x1="436.90" y1="311.80" x2="436.90" y2="317.30" stroke="#222" stroke-width="1"/>
<line x1="457.55" y1="311.80" x2="457.55" y2="314.80" stroke="#222" stroke-width="1"/>
<line x1="478.20" y1="311.80" x2="478.20" y2="317.30" stroke="#222" stroke-width="1"/>
<line x1="498.85" y1="311.80" x2="498.85" y2="314.80" stroke="#222" stroke-width="1"/>
<line x1="519.50" y1="311.80" x2="519.50" y2="317.30" stroke="#222" stroke-width="1"/>
<line x1="540.15" y1="311.80" x2="540.15" y2="314.80" stroke="#222" stroke-width="1"/>
<line x1="560.80" y1="311.80" x2="560.80" y2="317.30" stroke="#222" stroke-width="1"/>
<line x1="581.45" y1="311.80" x2="581.45" y2="314.80" stroke="#222" stroke-width="1"/>
<line x1="602.10" y1="311.80" x2="602.10" y2="317.30" stroke="#222" stroke-width="1"/>
<line x1="622.75" y1="311.80" x2="622.75" y2="314.80" stroke="#222" stroke-width="1"/>
<line x1="643.40" y1="311.80" x2="643.40" y2="317.30" stroke="#222" stroke-width="1"/>
<line x1="664.05" y1="311.80" x2="664.05" y2="314.80" stroke="#222" stroke-width="1"/>
<rect x="375.10" y="33.40" width="289.10" height="278.40" fill="none" stroke="#222" stroke-width="1.35"/>
<text x="396.40" y="332.90" font-size="12" text-anchor="middle" textLength="25.60" lengthAdjust="spacingAndGlyphs">−0.4</text>
<text x="437.70" y="332.90" font-size="12" text-anchor="middle" textLength="25.60" lengthAdjust="spacingAndGlyphs">−0.2</text>
<text x="479.00" y="332.90" font-size="12" text-anchor="middle" textLength="18.20" lengthAdjust="spacingAndGlyphs">0.0</text>
<text x="520.30" y="332.90" font-size="12" text-anchor="middle" textLength="18.20" lengthAdjust="spacingAndGlyphs">0.2</text>
<text x="561.60" y="332.90" font-size="12" text-anchor="middle" textLength="18.20" lengthAdjust="spacingAndGlyphs">0.4</text>
<text x="602.90" y="332.90" font-size="12" text-anchor="middle" textLength="18.20" lengthAdjust="spacingAndGlyphs">0.6</text>
<text x="644.20" y="332.90" font-size="12" text-anchor="middle" textLength="18.20" lengthAdjust="spacingAndGlyphs">0.8</text>
<text x="549.50" y="15.30" font-size="11.5" text-anchor="middle" textLength="22.60" lengthAdjust="spacingAndGlyphs">CBE</text>
<text x="549.50" y="28.90" font-size="11.5" text-anchor="middle" textLength="39.20" lengthAdjust="spacingAndGlyphs">0.35 eV</text>
<text x="622.60" y="15.30" font-size="11.5" text-anchor="middle" textLength="35.50" lengthAdjust="spacingAndGlyphs">CBE+1</text>
<text x="623.00" y="28.90" font-size="11.5" text-anchor="middle" textLength="32.30" lengthAdjust="spacingAndGlyphs">0.7 eV</text>
<text x="501.30" y="350.3" font-size="13">−<tspan font-style="italic">V</tspan><tspan font-size="9" dy="3">1</tspan><tspan dy="-3">(V)</tspan></text>
<line x1="381.50" y1="44.60" x2="402.20" y2="44.60" stroke="#000" stroke-width="1.6"/>
<text x="407.10" y="48.80" font-size="12.5" text-anchor="start" textLength="43.40" lengthAdjust="spacingAndGlyphs">Row +1</text>
<line x1="381.50" y1="58.70" x2="402.20" y2="58.70" stroke="#008000" stroke-width="1.6"/>
<text x="407.10" y="62.90" font-size="12.5" text-anchor="start" textLength="36.60" lengthAdjust="spacingAndGlyphs">Row 0</text>
<line x1="381.50" y1="73.10" x2="402.20" y2="73.10" stroke="#ff0000" stroke-width="1.6"/>
<text x="407.10" y="77.30" font-size="12.5" text-anchor="start" textLength="43.10" lengthAdjust="spacingAndGlyphs">Row −1</text>
<line x1="381.50" y1="87.20" x2="402.20" y2="87.20" stroke="#0000ff" stroke-width="1.6"/>
<text x="407.10" y="91.40" font-size="12.5" text-anchor="start" textLength="51.30" lengthAdjust="spacingAndGlyphs">Row −13</text>
<text x="-0.30" y="13.30" font-size="18" text-anchor="start" font-weight="bold">a</text>
<text x="341.80" y="14.20" font-size="18" text-anchor="start" font-weight="bold">b</text>
<text x="-0.50" y="388.70" font-size="18" text-anchor="start" font-weight="bold">c</text>
<text x="341.80" y="389.00" font-size="18" text-anchor="start" font-weight="bold">d</text>
<text transform="translate(11.0,211.7) rotate(-90)" font-size="13"><tspan font-style="italic">dI</tspan><tspan font-size="9" dy="3">2</tspan><tspan dy="-3" font-style="italic">/dV</tspan><tspan font-size="9" dy="3">1</tspan><tspan dy="-3"> (a.u.)</tspan></text>
<text transform="translate(363.4,208.9) rotate(-90)" font-size="13.4">−<tspan font-style="italic">dI</tspan><tspan font-size="9" dy="3">1</tspan><tspan dy="-3" font-style="italic">/dV</tspan><tspan font-size="9" dy="3">1</tspan><tspan dy="-3"> (a.u.)</tspan></text>
<line x1="19.92" y1="611.65" x2="19.92" y2="614.95" stroke="#000" stroke-width="1.2"/>
<line x1="61.30" y1="611.65" x2="61.30" y2="616.65" stroke="#000" stroke-width="1.2"/>
<line x1="102.67" y1="611.65" x2="102.67" y2="614.95" stroke="#000" stroke-width="1.2"/>
<line x1="144.05" y1="611.65" x2="144.05" y2="616.65" stroke="#000" stroke-width="1.2"/>
<line x1="185.43" y1="611.65" x2="185.43" y2="614.95" stroke="#000" stroke-width="1.2"/>
<line x1="226.80" y1="611.65" x2="226.80" y2="616.65" stroke="#000" stroke-width="1.2"/>
<line x1="268.18" y1="611.65" x2="268.18" y2="614.95" stroke="#000" stroke-width="1.2"/>
<line x1="309.55" y1="611.65" x2="309.55" y2="616.65" stroke="#000" stroke-width="1.2"/>
<rect x="20.30" y="394.50" width="289.20" height="217.15" fill="none" stroke="#000" stroke-width="1.3"/>
<text x="60.90" y="631.70" font-size="12" text-anchor="middle" textLength="18.40" lengthAdjust="spacingAndGlyphs">0.0</text>
<text x="143.65" y="631.70" font-size="12" text-anchor="middle" textLength="18.40" lengthAdjust="spacingAndGlyphs">0.5</text>
<text x="226.40" y="631.70" font-size="12" text-anchor="middle" textLength="18.40" lengthAdjust="spacingAndGlyphs">1.0</text>
<text x="309.15" y="631.70" font-size="12" text-anchor="middle" textLength="18.40" lengthAdjust="spacingAndGlyphs">1.5</text>
<text x="147.3" y="651.5" font-size="12.5"><tspan font-style="italic">E</tspan> (eV)</text>
<text transform="translate(14.0,562.4) rotate(-90)" font-size="12">tip<tspan font-size="8.5" dy="3">1</tspan><tspan dy="-3"> DOS (a.u.)</tspan></text>
<line x1="237.00" y1="408.10" x2="257.50" y2="408.10" stroke="#000" stroke-width="1.5"/>
<text x="261.10" y="411.70" font-size="12.3" text-anchor="start" textLength="43.70" lengthAdjust="spacingAndGlyphs">Row +1</text>
<line x1="237.00" y1="421.80" x2="257.50" y2="421.80" stroke="#008000" stroke-width="1.5"/>
<text x="261.10" y="425.40" font-size="12.3" text-anchor="start" textLength="37.20" lengthAdjust="spacingAndGlyphs">Row 0</text>
<line x1="237.00" y1="436.20" x2="257.50" y2="436.20" stroke="#ff0000" stroke-width="1.5"/>
<text x="261.10" y="439.80" font-size="12.3" text-anchor="start" textLength="43.70" lengthAdjust="spacingAndGlyphs">Row −1</text>
<line x1="237.00" y1="450.60" x2="257.50" y2="450.60" stroke="#0000ff" stroke-width="1.5"/>
<text x="261.10" y="454.20" font-size="12.3" text-anchor="start" textLength="44.20" lengthAdjust="spacingAndGlyphs">Row −2</text>
<text x="108.40" y="460.20" font-size="11" text-anchor="middle" textLength="23.10" lengthAdjust="spacingAndGlyphs">CBE</text>
<text x="108.60" y="473.70" font-size="11" text-anchor="middle" textLength="21.60" lengthAdjust="spacingAndGlyphs">(2D)</text>
<text x="144.80" y="538.20" font-size="11" text-anchor="middle" textLength="48.30" lengthAdjust="spacingAndGlyphs">Quasi-1D</text>
<text x="176.80" y="508.30" font-size="11" text-anchor="middle" textLength="35.80" lengthAdjust="spacingAndGlyphs">CBE+1</text>
<text x="177.00" y="521.70" font-size="11" text-anchor="middle" textLength="21.60" lengthAdjust="spacingAndGlyphs">(2D)</text>
<line x1="108.40" y1="478.20" x2="108.40" y2="509.60" stroke="#000" stroke-width="1.2"/>
<path d="M105.20,508.10 L111.60,508.10 L108.40,515.60 Z" fill="#000"/>
<line x1="144.80" y1="543.70" x2="144.80" y2="576.20" stroke="#000" stroke-width="1.2"/>
<path d="M141.60,574.70 L148.00,574.70 L144.80,582.20 Z" fill="#000"/>
<line x1="177.20" y1="528.80" x2="177.20" y2="561.00" stroke="#000" stroke-width="1.2"/>
<path d="M174.00,559.50 L180.40,559.50 L177.20,567.00 Z" fill="#000"/>
<line x1="384.50" y1="602.33" x2="382.70" y2="602.33" stroke="#000" stroke-width="1"/>
<line x1="384.50" y1="589.86" x2="381.70" y2="589.86" stroke="#000" stroke-width="1"/>
<line x1="384.50" y1="577.39" x2="382.70" y2="577.39" stroke="#000" stroke-width="1"/>
<line x1="384.50" y1="564.92" x2="381.70" y2="564.92" stroke="#000" stroke-width="1"/>
<line x1="384.50" y1="552.45" x2="382.70" y2="552.45" stroke="#000" stroke-width="1"/>
<line x1="384.50" y1="539.98" x2="381.70" y2="539.98" stroke="#000" stroke-width="1"/>
<line x1="384.50" y1="527.51" x2="382.70" y2="527.51" stroke="#000" stroke-width="1"/>
<line x1="384.50" y1="515.04" x2="381.70" y2="515.04" stroke="#000" stroke-width="1"/>
<line x1="384.50" y1="502.57" x2="382.70" y2="502.57" stroke="#000" stroke-width="1"/>
<line x1="384.50" y1="490.10" x2="381.70" y2="490.10" stroke="#000" stroke-width="1"/>
<line x1="384.50" y1="477.63" x2="382.70" y2="477.63" stroke="#000" stroke-width="1"/>
<line x1="384.50" y1="465.16" x2="381.70" y2="465.16" stroke="#000" stroke-width="1"/>
<line x1="384.50" y1="452.69" x2="382.70" y2="452.69" stroke="#000" stroke-width="1"/>
<line x1="384.50" y1="440.22" x2="381.70" y2="440.22" stroke="#000" stroke-width="1"/>
<line x1="384.50" y1="427.75" x2="382.70" y2="427.75" stroke="#000" stroke-width="1"/>
<line x1="384.50" y1="612.00" x2="384.50" y2="615.40" stroke="#000" stroke-width="1"/>
<line x1="396.50" y1="612.00" x2="396.50" y2="614.20" stroke="#000" stroke-width="1"/>
<line x1="408.50" y1="612.00" x2="408.50" y2="615.40" stroke="#000" stroke-width="1"/>
<line x1="420.50" y1="612.00" x2="420.50" y2="614.20" stroke="#000" stroke-width="1"/>
<line x1="432.50" y1="612.00" x2="432.50" y2="615.40" stroke="#000" stroke-width="1"/>
<line x1="444.50" y1="612.00" x2="444.50" y2="614.20" stroke="#000" stroke-width="1"/>
<line x1="456.50" y1="612.00" x2="456.50" y2="615.40" stroke="#000" stroke-width="1"/>
<line x1="468.50" y1="612.00" x2="468.50" y2="614.20" stroke="#000" stroke-width="1"/>
<rect x="384.50" y="409.50" width="84.20" height="202.50" fill="none" stroke="#000" stroke-width="1.2"/>
<text x="384.50" y="630.50" font-size="12.5" text-anchor="middle">0</text>
<text x="408.50" y="630.50" font-size="12.5" text-anchor="middle">1</text>
<text x="432.50" y="630.50" font-size="12.5" text-anchor="middle">2</text>
<text x="456.50" y="630.50" font-size="12.5" text-anchor="middle">3</text>
<text x="407.40" y="647.9" font-size="12.5" textLength="36.6" lengthAdjust="spacingAndGlyphs"><tspan font-style="italic">x</tspan> (nm)</text>
<text x="398.50" y="421.60" font-size="11.3" text-anchor="middle">+1</text>
<text x="417.90" y="421.60" font-size="11.3" text-anchor="middle">0</text>
<text x="435.70" y="421.60" font-size="11.3" text-anchor="middle">−1</text>
<text x="454.90" y="421.60" font-size="11.3" text-anchor="middle">−2</text>
<line x1="474.40" y1="602.33" x2="472.60" y2="602.33" stroke="#000" stroke-width="1"/>
<line x1="474.40" y1="589.86" x2="471.60" y2="589.86" stroke="#000" stroke-width="1"/>
<line x1="474.40" y1="577.39" x2="472.60" y2="577.39" stroke="#000" stroke-width="1"/>
<line x1="474.40" y1="564.92" x2="471.60" y2="564.92" stroke="#000" stroke-width="1"/>
<line x1="474.40" y1="552.45" x2="472.60" y2="552.45" stroke="#000" stroke-width="1"/>
<line x1="474.40" y1="539.98" x2="471.60" y2="539.98" stroke="#000" stroke-width="1"/>
<line x1="474.40" y1="527.51" x2="472.60" y2="527.51" stroke="#000" stroke-width="1"/>
<line x1="474.40" y1="515.04" x2="471.60" y2="515.04" stroke="#000" stroke-width="1"/>
<line x1="474.40" y1="502.57" x2="472.60" y2="502.57" stroke="#000" stroke-width="1"/>
<line x1="474.40" y1="490.10" x2="471.60" y2="490.10" stroke="#000" stroke-width="1"/>
<line x1="474.40" y1="477.63" x2="472.60" y2="477.63" stroke="#000" stroke-width="1"/>
<line x1="474.40" y1="465.16" x2="471.60" y2="465.16" stroke="#000" stroke-width="1"/>
<line x1="474.40" y1="452.69" x2="472.60" y2="452.69" stroke="#000" stroke-width="1"/>
<line x1="474.40" y1="440.22" x2="471.60" y2="440.22" stroke="#000" stroke-width="1"/>
<line x1="474.40" y1="427.75" x2="472.60" y2="427.75" stroke="#000" stroke-width="1"/>
<line x1="474.40" y1="612.00" x2="474.40" y2="615.40" stroke="#000" stroke-width="1"/>
<line x1="486.40" y1="612.00" x2="486.40" y2="614.20" stroke="#000" stroke-width="1"/>
<line x1="498.40" y1="612.00" x2="498.40" y2="615.40" stroke="#000" stroke-width="1"/>
<line x1="510.40" y1="612.00" x2="510.40" y2="614.20" stroke="#000" stroke-width="1"/>
<line x1="522.40" y1="612.00" x2="522.40" y2="615.40" stroke="#000" stroke-width="1"/>
<line x1="534.40" y1="612.00" x2="534.40" y2="614.20" stroke="#000" stroke-width="1"/>
<line x1="546.40" y1="612.00" x2="546.40" y2="615.40" stroke="#000" stroke-width="1"/>
<line x1="558.40" y1="612.00" x2="558.40" y2="614.20" stroke="#000" stroke-width="1"/>
<rect x="474.40" y="409.50" width="84.20" height="202.50" fill="none" stroke="#000" stroke-width="1.2"/>
<text x="474.40" y="630.50" font-size="12.5" text-anchor="middle">0</text>
<text x="498.40" y="630.50" font-size="12.5" text-anchor="middle">1</text>
<text x="522.40" y="630.50" font-size="12.5" text-anchor="middle">2</text>
<text x="546.40" y="630.50" font-size="12.5" text-anchor="middle">3</text>
<text x="498.70" y="647.9" font-size="12.5" textLength="36.6" lengthAdjust="spacingAndGlyphs"><tspan font-style="italic">x</tspan> (nm)</text>
<text x="488.40" y="421.60" font-size="11.3" text-anchor="middle">+1</text>
<text x="507.80" y="421.60" font-size="11.3" text-anchor="middle">0</text>
<text x="525.60" y="421.60" font-size="11.3" text-anchor="middle">−1</text>
<text x="544.80" y="421.60" font-size="11.3" text-anchor="middle">−2</text>
<line x1="565.00" y1="602.33" x2="563.20" y2="602.33" stroke="#000" stroke-width="1"/>
<line x1="565.00" y1="589.86" x2="562.20" y2="589.86" stroke="#000" stroke-width="1"/>
<line x1="565.00" y1="577.39" x2="563.20" y2="577.39" stroke="#000" stroke-width="1"/>
<line x1="565.00" y1="564.92" x2="562.20" y2="564.92" stroke="#000" stroke-width="1"/>
<line x1="565.00" y1="552.45" x2="563.20" y2="552.45" stroke="#000" stroke-width="1"/>
<line x1="565.00" y1="539.98" x2="562.20" y2="539.98" stroke="#000" stroke-width="1"/>
<line x1="565.00" y1="527.51" x2="563.20" y2="527.51" stroke="#000" stroke-width="1"/>
<line x1="565.00" y1="515.04" x2="562.20" y2="515.04" stroke="#000" stroke-width="1"/>
<line x1="565.00" y1="502.57" x2="563.20" y2="502.57" stroke="#000" stroke-width="1"/>
<line x1="565.00" y1="490.10" x2="562.20" y2="490.10" stroke="#000" stroke-width="1"/>
<line x1="565.00" y1="477.63" x2="563.20" y2="477.63" stroke="#000" stroke-width="1"/>
<line x1="565.00" y1="465.16" x2="562.20" y2="465.16" stroke="#000" stroke-width="1"/>
<line x1="565.00" y1="452.69" x2="563.20" y2="452.69" stroke="#000" stroke-width="1"/>
<line x1="565.00" y1="440.22" x2="562.20" y2="440.22" stroke="#000" stroke-width="1"/>
<line x1="565.00" y1="427.75" x2="563.20" y2="427.75" stroke="#000" stroke-width="1"/>
<line x1="565.00" y1="612.00" x2="565.00" y2="615.40" stroke="#000" stroke-width="1"/>
<line x1="577.00" y1="612.00" x2="577.00" y2="614.20" stroke="#000" stroke-width="1"/>
<line x1="589.00" y1="612.00" x2="589.00" y2="615.40" stroke="#000" stroke-width="1"/>
<line x1="601.00" y1="612.00" x2="601.00" y2="614.20" stroke="#000" stroke-width="1"/>
<line x1="613.00" y1="612.00" x2="613.00" y2="615.40" stroke="#000" stroke-width="1"/>
<line x1="625.00" y1="612.00" x2="625.00" y2="614.20" stroke="#000" stroke-width="1"/>
<line x1="637.00" y1="612.00" x2="637.00" y2="615.40" stroke="#000" stroke-width="1"/>
<line x1="649.00" y1="612.00" x2="649.00" y2="614.20" stroke="#000" stroke-width="1"/>
<rect x="565.00" y="409.50" width="84.20" height="202.50" fill="none" stroke="#000" stroke-width="1.2"/>
<text x="565.00" y="630.50" font-size="12.5" text-anchor="middle">0</text>
<text x="589.00" y="630.50" font-size="12.5" text-anchor="middle">1</text>
<text x="613.00" y="630.50" font-size="12.5" text-anchor="middle">2</text>
<text x="637.00" y="630.50" font-size="12.5" text-anchor="middle">3</text>
<text x="588.60" y="647.9" font-size="12.5" textLength="36.6" lengthAdjust="spacingAndGlyphs"><tspan font-style="italic">x</tspan> (nm)</text>
<text x="579.00" y="421.60" font-size="11.3" text-anchor="middle">+1</text>
<text x="598.40" y="421.60" font-size="11.3" text-anchor="middle">0</text>
<text x="616.20" y="421.60" font-size="11.3" text-anchor="middle">−1</text>
<text x="635.40" y="421.60" font-size="11.3" text-anchor="middle">−2</text>
<text x="377.80" y="595.26" font-size="12.5" text-anchor="end">2</text>
<text x="377.80" y="570.32" font-size="12.5" text-anchor="end">4</text>
<text x="377.80" y="545.38" font-size="12.5" text-anchor="end">6</text>
<text x="377.80" y="520.44" font-size="12.5" text-anchor="end">8</text>
<text x="377.80" y="495.50" font-size="12.5" text-anchor="end">10</text>
<text x="377.80" y="470.56" font-size="12.5" text-anchor="end">12</text>
<text x="377.80" y="445.62" font-size="12.5" text-anchor="end">14</text>
<text transform="translate(352.8,528.8) rotate(-90)" font-size="12.5"><tspan font-style="italic">y</tspan> (nm)</text>
<text x="426.50" y="391.80" font-size="11" text-anchor="middle" textLength="54.70" lengthAdjust="spacingAndGlyphs">CBE onset</text>
<text x="426.40" y="405.80" font-size="11" text-anchor="middle" textLength="21.70" lengthAdjust="spacingAndGlyphs">(2D)</text>
<text x="516.00" y="398.40" font-size="11" text-anchor="middle" textLength="47.30" lengthAdjust="spacingAndGlyphs">Quasi-1D</text>
<text x="607.10" y="391.30" font-size="11" text-anchor="middle" textLength="67.40" lengthAdjust="spacingAndGlyphs">CBE+1 onset</text>
<text x="607.00" y="405.80" font-size="11" text-anchor="middle" textLength="21.20" lengthAdjust="spacingAndGlyphs">(2D)</text>
<text transform="translate(681.0,561) rotate(-90)" font-size="13.6">tip<tspan font-size="9" dy="3">1</tspan><tspan dy="-3"> LDOS (a.u.)</tspan></text>
<circle cx="542.50" cy="429.20" r="0.55" fill="#2e2eff"/>
<circle cx="542.50" cy="439.15" r="0.55" fill="#2e2eff"/>
<circle cx="542.50" cy="449.10" r="0.55" fill="#2e2eff"/>
<circle cx="542.50" cy="459.04" r="0.55" fill="#2e2eff"/>
<circle cx="542.50" cy="468.99" r="0.55" fill="#2e2eff"/>
<circle cx="542.50" cy="478.94" r="0.55" fill="#2e2eff"/>
<circle cx="542.50" cy="488.89" r="0.55" fill="#2e2eff"/>
<circle cx="542.50" cy="498.84" r="0.55" fill="#2e2eff"/>
<circle cx="542.50" cy="508.78" r="0.55" fill="#2e2eff"/>
<circle cx="542.50" cy="518.73" r="0.55" fill="#2e2eff"/>
<circle cx="542.50" cy="528.68" r="0.55" fill="#2e2eff"/>
<circle cx="542.50" cy="538.63" r="0.55" fill="#2e2eff"/>
<circle cx="542.50" cy="548.58" r="0.55" fill="#2e2eff"/>
<circle cx="542.50" cy="558.52" r="0.55" fill="#2e2eff"/>
<circle cx="542.50" cy="568.47" r="0.55" fill="#2e2eff"/>
<circle cx="542.50" cy="578.42" r="0.55" fill="#2e2eff"/>
<circle cx="542.50" cy="588.37" r="0.55" fill="#2e2eff"/>
<circle cx="542.50" cy="598.32" r="0.55" fill="#2e2eff"/>
<circle cx="547.80" cy="434.17" r="0.55" fill="#2e2eff"/>
<circle cx="547.80" cy="444.12" r="0.55" fill="#2e2eff"/>
<circle cx="547.80" cy="454.07" r="0.55" fill="#2e2eff"/>
<circle cx="547.80" cy="464.02" r="0.55" fill="#2e2eff"/>
<circle cx="547.80" cy="473.97" r="0.55" fill="#2e2eff"/>
<circle cx="547.80" cy="483.91" r="0.55" fill="#2e2eff"/>
<circle cx="547.80" cy="493.86" r="0.55" fill="#2e2eff"/>
<circle cx="547.80" cy="503.81" r="0.55" fill="#2e2eff"/>
<circle cx="547.80" cy="513.76" r="0.55" fill="#2e2eff"/>
<circle cx="547.80" cy="523.71" r="0.55" fill="#2e2eff"/>
<circle cx="547.80" cy="533.65" r="0.55" fill="#2e2eff"/>
<circle cx="547.80" cy="543.60" r="0.55" fill="#2e2eff"/>
<circle cx="547.80" cy="553.55" r="0.55" fill="#2e2eff"/>
<circle cx="547.80" cy="563.50" r="0.55" fill="#2e2eff"/>
<circle cx="547.80" cy="573.45" r="0.55" fill="#2e2eff"/>
<circle cx="547.80" cy="583.39" r="0.55" fill="#2e2eff"/>
<circle cx="547.80" cy="593.34" r="0.55" fill="#2e2eff"/>
<circle cx="547.80" cy="603.29" r="0.55" fill="#2e2eff"/>
<circle cx="484.50" cy="603.29" r="0.70" fill="#2e2eff"/>
<circle cx="523.30" cy="603.29" r="0.70" fill="#2e2eff"/>
<circle cx="542.50" cy="603.29" r="0.70" fill="#2e2eff"/>
<circle cx="489.80" cy="598.32" r="0.71" fill="#2e2eff"/>
<circle cx="528.40" cy="598.32" r="0.71" fill="#2e2eff"/>
<circle cx="484.50" cy="593.34" r="0.71" fill="#2e2eff"/>
<circle cx="523.30" cy="593.34" r="0.71" fill="#2e2eff"/>
<circle cx="489.80" cy="588.37" r="0.72" fill="#2e2eff"/>
<circle cx="528.40" cy="588.37" r="0.72" fill="#2e2eff"/>
<circle cx="484.50" cy="583.39" r="0.72" fill="#2e2eff"/>
<circle cx="523.30" cy="583.39" r="0.72" fill="#2e2eff"/>
<circle cx="547.80" cy="598.32" r="0.72" fill="#2e2eff"/>
<circle cx="489.80" cy="578.42" r="0.73" fill="#2e2eff"/>
<circle cx="528.40" cy="578.42" r="0.73" fill="#2e2eff"/>
<circle cx="484.50" cy="573.45" r="0.73" fill="#2e2eff"/>
<circle cx="523.30" cy="573.45" r="0.73" fill="#2e2eff"/>
<circle cx="489.80" cy="568.47" r="0.74" fill="#2e2eff"/>
<circle cx="528.40" cy="568.47" r="0.74" fill="#2e2eff"/>
<circle cx="484.50" cy="563.50" r="0.75" fill="#2e2eff"/>
<circle cx="523.30" cy="563.50" r="0.75" fill="#2e2eff"/>
<circle cx="542.50" cy="593.34" r="0.75" fill="#2e2eff"/>
<circle cx="489.80" cy="558.52" r="0.75" fill="#2e2eff"/>
<circle cx="528.40" cy="558.52" r="0.75" fill="#2e2eff"/>
<circle cx="484.50" cy="553.55" r="0.76" fill="#2e2eff"/>
<circle cx="523.30" cy="553.55" r="0.76" fill="#2e2eff"/>
<circle cx="489.80" cy="548.58" r="0.76" fill="#2e2eff"/>
<circle cx="528.40" cy="548.58" r="0.76" fill="#2e2eff"/>
<circle cx="484.50" cy="543.60" r="0.77" fill="#2e2eff"/>
<circle cx="523.30" cy="543.60" r="0.77" fill="#2e2eff"/>
<circle cx="547.80" cy="588.37" r="0.77" fill="#2e2eff"/>
<circle cx="489.80" cy="538.63" r="0.77" fill="#2e2eff"/>
<circle cx="528.40" cy="538.63" r="0.77" fill="#2e2eff"/>
<circle cx="484.50" cy="533.65" r="0.78" fill="#2e2eff"/>
<circle cx="523.30" cy="533.65" r="0.78" fill="#2e2eff"/>
<circle cx="489.80" cy="528.68" r="0.79" fill="#2e2eff"/>
<circle cx="528.40" cy="528.68" r="0.79" fill="#2e2eff"/>
<circle cx="484.50" cy="523.71" r="0.79" fill="#2e2eff"/>
<circle cx="523.30" cy="523.71" r="0.79" fill="#2e2eff"/>
<circle cx="542.50" cy="583.39" r="0.79" fill="#2e2eff"/>
<circle cx="489.80" cy="518.73" r="0.80" fill="#2e2eff"/>
<circle cx="528.40" cy="518.73" r="0.80" fill="#2e2eff"/>
<circle cx="633.10" cy="429.20" r="0.80" fill="#2e2eff"/>
<circle cx="633.10" cy="439.15" r="0.80" fill="#2e2eff"/>
<circle cx="633.10" cy="449.10" r="0.80" fill="#2e2eff"/>
<circle cx="633.10" cy="459.04" r="0.80" fill="#2e2eff"/>
<circle cx="633.10" cy="468.99" r="0.80" fill="#2e2eff"/>
<circle cx="633.10" cy="478.94" r="0.80" fill="#2e2eff"/>
<circle cx="633.10" cy="488.89" r="0.80" fill="#2e2eff"/>
<circle cx="633.10" cy="498.84" r="0.80" fill="#2e2eff"/>
<circle cx="633.10" cy="508.78" r="0.80" fill="#2e2eff"/>
<circle cx="633.10" cy="518.73" r="0.80" fill="#2e2eff"/>
<circle cx="633.10" cy="528.68" r="0.80" fill="#2e2eff"/>
<circle cx="633.10" cy="538.63" r="0.80" fill="#2e2eff"/>
<circle cx="633.10" cy="548.58" r="0.80" fill="#2e2eff"/>
<circle cx="633.10" cy="558.52" r="0.80" fill="#2e2eff"/>
<circle cx="633.10" cy="568.47" r="0.80" fill="#2e2eff"/>
<circle cx="633.10" cy="578.42" r="0.80" fill="#2e2eff"/>
<circle cx="633.10" cy="588.37" r="0.80" fill="#2e2eff"/>
<circle cx="633.10" cy="598.32" r="0.80" fill="#2e2eff"/>
<circle cx="638.40" cy="434.17" r="0.80" fill="#2e2eff"/>
<circle cx="638.40" cy="444.12" r="0.80" fill="#2e2eff"/>
<circle cx="638.40" cy="454.07" r="0.80" fill="#2e2eff"/>
<circle cx="638.40" cy="464.02" r="0.80" fill="#2e2eff"/>
<circle cx="638.40" cy="473.97" r="0.80" fill="#2e2eff"/>
<circle cx="638.40" cy="483.91" r="0.80" fill="#2e2eff"/>
<circle cx="638.40" cy="493.86" r="0.80" fill="#2e2eff"/>
<circle cx="638.40" cy="503.81" r="0.80" fill="#2e2eff"/>
<circle cx="638.40" cy="513.76" r="0.80" fill="#2e2eff"/>
<circle cx="638.40" cy="523.71" r="0.80" fill="#2e2eff"/>
<circle cx="638.40" cy="533.65" r="0.80" fill="#2e2eff"/>
<circle cx="638.40" cy="543.60" r="0.80" fill="#2e2eff"/>
<circle cx="638.40" cy="553.55" r="0.80" fill="#2e2eff"/>
<circle cx="638.40" cy="563.50" r="0.80" fill="#2e2eff"/>
<circle cx="638.40" cy="573.45" r="0.80" fill="#2e2eff"/>
<circle cx="638.40" cy="583.39" r="0.80" fill="#2e2eff"/>
<circle cx="638.40" cy="593.34" r="0.80" fill="#2e2eff"/>
<circle cx="638.40" cy="603.29" r="0.80" fill="#2e2eff"/>
<circle cx="399.90" cy="429.20" r="0.80" fill="#2e2eff"/>
<circle cx="414.00" cy="429.20" r="0.80" fill="#2e2eff"/>
<circle cx="438.50" cy="429.20" r="0.80" fill="#2e2eff"/>
<circle cx="452.60" cy="429.20" r="0.80" fill="#2e2eff"/>
<circle cx="484.50" cy="513.76" r="0.80" fill="#2e2eff"/>
<circle cx="523.30" cy="513.76" r="0.80" fill="#2e2eff"/>
<circle cx="394.60" cy="434.17" r="0.81" fill="#2e2eff"/>
<circle cx="419.30" cy="434.17" r="0.81" fill="#2e2eff"/>
<circle cx="433.40" cy="434.17" r="0.81" fill="#2e2eff"/>
<circle cx="457.90" cy="434.17" r="0.81" fill="#2e2eff"/>
<circle cx="489.80" cy="508.78" r="0.81" fill="#2e2eff"/>
<circle cx="528.40" cy="508.78" r="0.81" fill="#2e2eff"/>
<circle cx="484.50" cy="503.81" r="0.81" fill="#2e2eff"/>
<circle cx="523.30" cy="503.81" r="0.81" fill="#2e2eff"/>
<circle cx="399.90" cy="439.15" r="0.81" fill="#2e2eff"/>
<circle cx="414.00" cy="439.15" r="0.81" fill="#2e2eff"/>
<circle cx="438.50" cy="439.15" r="0.81" fill="#2e2eff"/>
<circle cx="452.60" cy="439.15" r="0.81" fill="#2e2eff"/>
<circle cx="547.80" cy="578.42" r="0.82" fill="#2e2eff"/>
<circle cx="489.80" cy="498.84" r="0.82" fill="#2e2eff"/>
<circle cx="528.40" cy="498.84" r="0.82" fill="#2e2eff"/>
<circle cx="394.60" cy="444.12" r="0.82" fill="#2e2eff"/>
<circle cx="419.30" cy="444.12" r="0.82" fill="#2e2eff"/>
<circle cx="433.40" cy="444.12" r="0.82" fill="#2e2eff"/>
<circle cx="457.90" cy="444.12" r="0.82" fill="#2e2eff"/>
<circle cx="484.50" cy="493.86" r="0.83" fill="#2e2eff"/>
<circle cx="523.30" cy="493.86" r="0.83" fill="#2e2eff"/>
<circle cx="399.90" cy="449.10" r="0.83" fill="#2e2eff"/>
<circle cx="414.00" cy="449.10" r="0.83" fill="#2e2eff"/>
<circle cx="438.50" cy="449.10" r="0.83" fill="#2e2eff"/>
<circle cx="452.60" cy="449.10" r="0.83" fill="#2e2eff"/>
<circle cx="489.80" cy="488.89" r="0.83" fill="#2e2eff"/>
<circle cx="528.40" cy="488.89" r="0.83" fill="#2e2eff"/>
<circle cx="394.60" cy="454.07" r="0.84" fill="#2e2eff"/>
<circle cx="419.30" cy="454.07" r="0.84" fill="#2e2eff"/>
<circle cx="433.40" cy="454.07" r="0.84" fill="#2e2eff"/>
<circle cx="457.90" cy="454.07" r="0.84" fill="#2e2eff"/>
<circle cx="484.50" cy="483.91" r="0.84" fill="#2e2eff"/>
<circle cx="523.30" cy="483.91" r="0.84" fill="#2e2eff"/>
<circle cx="542.50" cy="573.45" r="0.84" fill="#2e2eff"/>
<circle cx="489.80" cy="478.94" r="0.84" fill="#2e2eff"/>
<circle cx="528.40" cy="478.94" r="0.84" fill="#2e2eff"/>
<circle cx="399.90" cy="459.04" r="0.84" fill="#2e2eff"/>
<circle cx="414.00" cy="459.04" r="0.84" fill="#2e2eff"/>
<circle cx="438.50" cy="459.04" r="0.84" fill="#2e2eff"/>
<circle cx="452.60" cy="459.04" r="0.84" fill="#2e2eff"/>
<circle cx="484.50" cy="473.97" r="0.85" fill="#2e2eff"/>
<circle cx="523.30" cy="473.97" r="0.85" fill="#2e2eff"/>
<circle cx="594.50" cy="429.20" r="0.85" fill="#2e2eff"/>
<circle cx="599.80" cy="434.17" r="0.85" fill="#2e2eff"/>
<circle cx="594.50" cy="439.15" r="0.85" fill="#2e2eff"/>
<circle cx="394.60" cy="464.02" r="0.85" fill="#2e2eff"/>
<circle cx="419.30" cy="464.02" r="0.85" fill="#2e2eff"/>
<circle cx="433.40" cy="464.02" r="0.85" fill="#2e2eff"/>
<circle cx="457.90" cy="464.02" r="0.85" fill="#2e2eff"/>
<circle cx="599.80" cy="444.12" r="0.85" fill="#2e2eff"/>
<circle cx="594.50" cy="449.10" r="0.85" fill="#2e2eff"/>
<circle cx="599.80" cy="454.07" r="0.85" fill="#2e2eff"/>
<circle cx="594.50" cy="459.04" r="0.85" fill="#2e2eff"/>
<circle cx="599.80" cy="464.02" r="0.85" fill="#2e2eff"/>
<circle cx="594.50" cy="468.99" r="0.85" fill="#2e2eff"/>
<circle cx="599.80" cy="473.97" r="0.85" fill="#2e2eff"/>
<circle cx="594.50" cy="478.94" r="0.85" fill="#2e2eff"/>
<circle cx="489.80" cy="468.99" r="0.85" fill="#2e2eff"/>
<circle cx="528.40" cy="468.99" r="0.85" fill="#2e2eff"/>
<circle cx="599.80" cy="483.91" r="0.85" fill="#2e2eff"/>
<circle cx="594.50" cy="488.89" r="0.86" fill="#2e2eff"/>
<circle cx="399.90" cy="468.99" r="0.86" fill="#2e2eff"/>
<circle cx="438.50" cy="468.99" r="0.86" fill="#2e2eff"/>
<circle cx="452.60" cy="468.99" r="0.86" fill="#2e2eff"/>
<circle cx="414.00" cy="468.99" r="0.86" fill="#2e2eff"/>
<circle cx="599.80" cy="493.86" r="0.86" fill="#2e2eff"/>
<circle cx="484.50" cy="464.02" r="0.86" fill="#2e2eff"/>
<circle cx="523.30" cy="464.02" r="0.86" fill="#2e2eff"/>
<circle cx="547.80" cy="568.47" r="0.86" fill="#2e2eff"/>
<circle cx="594.50" cy="498.84" r="0.86" fill="#2e2eff"/>
<circle cx="394.60" cy="473.97" r="0.86" fill="#2e2eff"/>
<circle cx="433.40" cy="473.97" r="0.86" fill="#2e2eff"/>
<circle cx="457.90" cy="473.97" r="0.86" fill="#2e2eff"/>
<circle cx="419.30" cy="473.97" r="0.86" fill="#2e2eff"/>
<circle cx="489.80" cy="459.04" r="0.87" fill="#2e2eff"/>
<circle cx="528.40" cy="459.04" r="0.87" fill="#2e2eff"/>
<circle cx="599.80" cy="503.81" r="0.87" fill="#2e2eff"/>
<circle cx="484.50" cy="454.07" r="0.87" fill="#2e2eff"/>
<circle cx="523.30" cy="454.07" r="0.87" fill="#2e2eff"/>
<circle cx="399.90" cy="478.94" r="0.87" fill="#2e2eff"/>
<circle cx="438.50" cy="478.94" r="0.87" fill="#2e2eff"/>
<circle cx="452.60" cy="478.94" r="0.87" fill="#2e2eff"/>
<circle cx="414.00" cy="478.94" r="0.87" fill="#2e2eff"/>
<circle cx="489.80" cy="449.10" r="0.88" fill="#2e2eff"/>
<circle cx="528.40" cy="449.10" r="0.88" fill="#2e2eff"/>
<circle cx="394.60" cy="483.91" r="0.88" fill="#2e2eff"/>
<circle cx="433.40" cy="483.91" r="0.88" fill="#2e2eff"/>
<circle cx="457.90" cy="483.91" r="0.88" fill="#2e2eff"/>
<circle cx="419.30" cy="483.91" r="0.88" fill="#2e2eff"/>
<circle cx="594.50" cy="508.78" r="0.88" fill="#2e2eff"/>
<circle cx="484.50" cy="444.12" r="0.88" fill="#2e2eff"/>
<circle cx="523.30" cy="444.12" r="0.88" fill="#2e2eff"/>
<circle cx="542.50" cy="563.50" r="0.88" fill="#2e2eff"/>
<circle cx="399.90" cy="488.89" r="0.89" fill="#2e2eff"/>
<circle cx="438.50" cy="488.89" r="0.89" fill="#2e2eff"/>
<circle cx="452.60" cy="488.89" r="0.89" fill="#2e2eff"/>
<circle cx="414.00" cy="488.89" r="0.89" fill="#2e2eff"/>
<circle cx="489.80" cy="439.15" r="0.89" fill="#2e2eff"/>
<circle cx="528.40" cy="439.15" r="0.89" fill="#2e2eff"/>
<circle cx="394.60" cy="493.86" r="0.89" fill="#2e2eff"/>
<circle cx="433.40" cy="493.86" r="0.89" fill="#2e2eff"/>
<circle cx="457.90" cy="493.86" r="0.89" fill="#2e2eff"/>
<circle cx="419.30" cy="493.86" r="0.89" fill="#2e2eff"/>
<circle cx="599.80" cy="513.76" r="0.89" fill="#2e2eff"/>
<circle cx="484.50" cy="434.17" r="0.89" fill="#2e2eff"/>
<circle cx="523.30" cy="434.17" r="0.89" fill="#2e2eff"/>
<circle cx="489.80" cy="429.20" r="0.90" fill="#2e2eff"/>
<circle cx="528.40" cy="429.20" r="0.90" fill="#2e2eff"/>
<circle cx="575.10" cy="434.17" r="0.90" fill="#2e2eff"/>
<circle cx="575.10" cy="444.12" r="0.90" fill="#2e2eff"/>
<circle cx="575.10" cy="454.07" r="0.90" fill="#2e2eff"/>
<circle cx="575.10" cy="464.02" r="0.90" fill="#2e2eff"/>
<circle cx="575.10" cy="473.97" r="0.90" fill="#2e2eff"/>
<circle cx="575.10" cy="483.91" r="0.90" fill="#2e2eff"/>
<circle cx="575.10" cy="493.86" r="0.90" fill="#2e2eff"/>
<circle cx="575.10" cy="503.81" r="0.90" fill="#2e2eff"/>
<circle cx="575.10" cy="513.76" r="0.90" fill="#2e2eff"/>
<circle cx="575.10" cy="523.71" r="0.90" fill="#2e2eff"/>
<circle cx="575.10" cy="533.65" r="0.90" fill="#2e2eff"/>
<circle cx="575.10" cy="543.60" r="0.90" fill="#2e2eff"/>
<circle cx="575.10" cy="553.55" r="0.90" fill="#2e2eff"/>
<circle cx="575.10" cy="563.50" r="0.90" fill="#2e2eff"/>
<circle cx="575.10" cy="573.45" r="0.90" fill="#2e2eff"/>
<circle cx="575.10" cy="583.39" r="0.90" fill="#2e2eff"/>
<circle cx="575.10" cy="593.34" r="0.90" fill="#2e2eff"/>
<circle cx="575.10" cy="603.29" r="0.90" fill="#2e2eff"/>
<circle cx="580.40" cy="429.20" r="0.90" fill="#2e2eff"/>
<circle cx="580.40" cy="439.15" r="0.90" fill="#2e2eff"/>
<circle cx="580.40" cy="449.10" r="0.90" fill="#2e2eff"/>
<circle cx="580.40" cy="459.04" r="0.90" fill="#2e2eff"/>
<circle cx="580.40" cy="468.99" r="0.90" fill="#2e2eff"/>
<circle cx="580.40" cy="478.94" r="0.90" fill="#2e2eff"/>
<circle cx="580.40" cy="488.89" r="0.90" fill="#2e2eff"/>
<circle cx="580.40" cy="498.84" r="0.90" fill="#2e2eff"/>
<circle cx="580.40" cy="508.78" r="0.90" fill="#2e2eff"/>
<circle cx="580.40" cy="518.73" r="0.90" fill="#2e2eff"/>
<circle cx="580.40" cy="528.68" r="0.90" fill="#2e2eff"/>
<circle cx="580.40" cy="538.63" r="0.90" fill="#2e2eff"/>
<circle cx="580.40" cy="548.58" r="0.90" fill="#2e2eff"/>
<circle cx="580.40" cy="558.52" r="0.90" fill="#2e2eff"/>
<circle cx="580.40" cy="568.47" r="0.90" fill="#2e2eff"/>
<circle cx="580.40" cy="578.42" r="0.90" fill="#2e2eff"/>
<circle cx="580.40" cy="588.37" r="0.90" fill="#2e2eff"/>
<circle cx="580.40" cy="598.32" r="0.90" fill="#2e2eff"/>
<circle cx="613.90" cy="434.17" r="0.90" fill="#2e2eff"/>
<circle cx="613.90" cy="444.12" r="0.90" fill="#2e2eff"/>
<circle cx="613.90" cy="454.07" r="0.90" fill="#2e2eff"/>
<circle cx="613.90" cy="464.02" r="0.90" fill="#2e2eff"/>
<circle cx="613.90" cy="473.97" r="0.90" fill="#2e2eff"/>
<circle cx="613.90" cy="483.91" r="0.90" fill="#2e2eff"/>
<circle cx="613.90" cy="493.86" r="0.90" fill="#2e2eff"/>
<circle cx="613.90" cy="503.81" r="0.90" fill="#2e2eff"/>
<circle cx="613.90" cy="513.76" r="0.90" fill="#2e2eff"/>
<circle cx="613.90" cy="523.71" r="0.90" fill="#2e2eff"/>
<circle cx="613.90" cy="533.65" r="0.90" fill="#2e2eff"/>
<circle cx="613.90" cy="543.60" r="0.90" fill="#2e2eff"/>
<circle cx="613.90" cy="553.55" r="0.90" fill="#2e2eff"/>
<circle cx="613.90" cy="563.50" r="0.90" fill="#2e2eff"/>
<circle cx="613.90" cy="573.45" r="0.90" fill="#2e2eff"/>
<circle cx="613.90" cy="583.39" r="0.90" fill="#2e2eff"/>
<circle cx="613.90" cy="593.34" r="0.90" fill="#2e2eff"/>
<circle cx="613.90" cy="603.29" r="0.90" fill="#2e2eff"/>
<circle cx="619.00" cy="429.20" r="0.90" fill="#2e2eff"/>
<circle cx="619.00" cy="439.15" r="0.90" fill="#2e2eff"/>
<circle cx="619.00" cy="449.10" r="0.90" fill="#2e2eff"/>
<circle cx="619.00" cy="459.04" r="0.90" fill="#2e2eff"/>
<circle cx="619.00" cy="468.99" r="0.90" fill="#2e2eff"/>
<circle cx="619.00" cy="478.94" r="0.90" fill="#2e2eff"/>
<circle cx="619.00" cy="488.89" r="0.90" fill="#2e2eff"/>
<circle cx="619.00" cy="498.84" r="0.90" fill="#2e2eff"/>
<circle cx="619.00" cy="508.78" r="0.90" fill="#2e2eff"/>
<circle cx="619.00" cy="518.73" r="0.90" fill="#2e2eff"/>
<circle cx="619.00" cy="528.68" r="0.90" fill="#2e2eff"/>
<circle cx="619.00" cy="538.63" r="0.90" fill="#2e2eff"/>
<circle cx="619.00" cy="548.58" r="0.90" fill="#2e2eff"/>
<circle cx="619.00" cy="558.52" r="0.90" fill="#2e2eff"/>
<circle cx="619.00" cy="568.47" r="0.90" fill="#2e2eff"/>
<circle cx="619.00" cy="578.42" r="0.90" fill="#2e2eff"/>
<circle cx="619.00" cy="588.37" r="0.90" fill="#2e2eff"/>
<circle cx="619.00" cy="598.32" r="0.90" fill="#2e2eff"/>
<circle cx="399.90" cy="498.84" r="0.90" fill="#2e2eff"/>
<circle cx="438.50" cy="498.84" r="0.90" fill="#2e2eff"/>
<circle cx="452.60" cy="498.84" r="0.90" fill="#2e2eff"/>
<circle cx="414.00" cy="498.84" r="0.90" fill="#2e2eff"/>
<circle cx="547.80" cy="558.52" r="0.91" fill="#2e2eff"/>
<circle cx="394.60" cy="503.81" r="0.91" fill="#2e2eff"/>
<circle cx="433.40" cy="503.81" r="0.91" fill="#2e2eff"/>
<circle cx="457.90" cy="503.81" r="0.91" fill="#2e2eff"/>
<circle cx="419.30" cy="503.81" r="0.91" fill="#2e2eff"/>
<circle cx="594.50" cy="518.73" r="0.91" fill="#2e2eff"/>
<circle cx="399.90" cy="508.78" r="0.91" fill="#2e2eff"/>
<circle cx="438.50" cy="508.78" r="0.91" fill="#2e2eff"/>
<circle cx="452.60" cy="508.78" r="0.91" fill="#2e2eff"/>
<circle cx="414.00" cy="508.78" r="0.91" fill="#2e2eff"/>
<circle cx="394.60" cy="513.76" r="0.92" fill="#2e2eff"/>
<circle cx="433.40" cy="513.76" r="0.92" fill="#2e2eff"/>
<circle cx="457.90" cy="513.76" r="0.92" fill="#2e2eff"/>
<circle cx="419.30" cy="513.76" r="0.92" fill="#2e2eff"/>
<circle cx="399.90" cy="518.73" r="0.93" fill="#2e2eff"/>
<circle cx="438.50" cy="518.73" r="0.93" fill="#2e2eff"/>
<circle cx="452.60" cy="518.73" r="0.93" fill="#2e2eff"/>
<circle cx="542.50" cy="553.55" r="0.93" fill="#2e2eff"/>
<circle cx="414.00" cy="518.73" r="0.93" fill="#2e2eff"/>
<circle cx="599.80" cy="523.71" r="0.94" fill="#2e2eff"/>
<circle cx="394.60" cy="523.71" r="0.94" fill="#2e2eff"/>
<circle cx="433.40" cy="523.71" r="0.94" fill="#2e2eff"/>
<circle cx="457.90" cy="523.71" r="0.94" fill="#2e2eff"/>
<circle cx="419.30" cy="523.71" r="0.94" fill="#2e2eff"/>
<circle cx="399.90" cy="528.68" r="0.94" fill="#2e2eff"/>
<circle cx="438.50" cy="528.68" r="0.94" fill="#2e2eff"/>
<circle cx="452.60" cy="528.68" r="0.94" fill="#2e2eff"/>
<circle cx="394.60" cy="533.65" r="0.95" fill="#2e2eff"/>
<circle cx="433.40" cy="533.65" r="0.95" fill="#2e2eff"/>
<circle cx="457.90" cy="533.65" r="0.95" fill="#2e2eff"/>
<circle cx="547.80" cy="548.58" r="0.95" fill="#2e2eff"/>
<circle cx="399.90" cy="538.63" r="0.96" fill="#2e2eff"/>
<circle cx="438.50" cy="538.63" r="0.96" fill="#2e2eff"/>
<circle cx="452.60" cy="538.63" r="0.96" fill="#2e2eff"/>
<circle cx="394.60" cy="543.60" r="0.96" fill="#2e2eff"/>
<circle cx="433.40" cy="543.60" r="0.96" fill="#2e2eff"/>
<circle cx="457.90" cy="543.60" r="0.96" fill="#2e2eff"/>
<circle cx="414.00" cy="528.68" r="0.97" fill="#2e2eff"/>
<circle cx="594.50" cy="528.68" r="0.97" fill="#2e2eff"/>
<circle cx="399.90" cy="548.58" r="0.97" fill="#2e2eff"/>
<circle cx="438.50" cy="548.58" r="0.97" fill="#2e2eff"/>
<circle cx="452.60" cy="548.58" r="0.97" fill="#2e2eff"/>
<circle cx="542.50" cy="543.60" r="0.97" fill="#2e2eff"/>
<circle cx="394.60" cy="553.55" r="0.98" fill="#2e2eff"/>
<circle cx="433.40" cy="553.55" r="0.98" fill="#2e2eff"/>
<circle cx="457.90" cy="553.55" r="0.98" fill="#2e2eff"/>
<circle cx="399.90" cy="558.52" r="0.99" fill="#2e2eff"/>
<circle cx="438.50" cy="558.52" r="0.99" fill="#2e2eff"/>
<circle cx="452.60" cy="558.52" r="0.99" fill="#2e2eff"/>
<circle cx="394.60" cy="563.50" r="0.99" fill="#2e2eff"/>
<circle cx="433.40" cy="563.50" r="0.99" fill="#2e2eff"/>
<circle cx="457.90" cy="563.50" r="0.99" fill="#2e2eff"/>
<circle cx="547.80" cy="538.63" r="1.00" fill="#2e2eff"/>
<circle cx="399.90" cy="568.47" r="1.00" fill="#2e2eff"/>
<circle cx="438.50" cy="568.47" r="1.00" fill="#2e2eff"/>
<circle cx="452.60" cy="568.47" r="1.00" fill="#2e2eff"/>
<circle cx="489.80" cy="603.29" r="1.00" fill="#2e2eff"/>
<circle cx="528.40" cy="603.29" r="1.00" fill="#2e2eff"/>
<circle cx="599.80" cy="533.65" r="1.00" fill="#2e2eff"/>
<circle cx="394.60" cy="573.45" r="1.01" fill="#2e2eff"/>
<circle cx="433.40" cy="573.45" r="1.01" fill="#2e2eff"/>
<circle cx="457.90" cy="573.45" r="1.01" fill="#2e2eff"/>
<circle cx="503.90" cy="429.20" r="1.01" fill="#2e2eff"/>
<circle cx="509.20" cy="434.17" r="1.01" fill="#2e2eff"/>
<circle cx="399.90" cy="578.42" r="1.01" fill="#2e2eff"/>
<circle cx="438.50" cy="578.42" r="1.01" fill="#2e2eff"/>
<circle cx="452.60" cy="578.42" r="1.01" fill="#2e2eff"/>
<circle cx="503.90" cy="439.15" r="1.02" fill="#2e2eff"/>
<circle cx="484.50" cy="598.32" r="1.02" fill="#2e2eff"/>
<circle cx="523.30" cy="598.32" r="1.02" fill="#2e2eff"/>
<circle cx="542.50" cy="533.65" r="1.02" fill="#2e2eff"/>
<circle cx="394.60" cy="583.39" r="1.02" fill="#2e2eff"/>
<circle cx="433.40" cy="583.39" r="1.02" fill="#2e2eff"/>
<circle cx="457.90" cy="583.39" r="1.02" fill="#2e2eff"/>
<circle cx="509.20" cy="444.12" r="1.02" fill="#2e2eff"/>
<circle cx="399.90" cy="588.37" r="1.03" fill="#2e2eff"/>
<circle cx="438.50" cy="588.37" r="1.03" fill="#2e2eff"/>
<circle cx="452.60" cy="588.37" r="1.03" fill="#2e2eff"/>
<circle cx="503.90" cy="449.10" r="1.03" fill="#2e2eff"/>
<circle cx="419.30" cy="533.65" r="1.03" fill="#2e2eff"/>
<circle cx="394.60" cy="593.34" r="1.04" fill="#2e2eff"/>
<circle cx="433.40" cy="593.34" r="1.04" fill="#2e2eff"/>
<circle cx="457.90" cy="593.34" r="1.04" fill="#2e2eff"/>
<circle cx="489.80" cy="593.34" r="1.04" fill="#2e2eff"/>
<circle cx="528.40" cy="593.34" r="1.04" fill="#2e2eff"/>
<circle cx="509.20" cy="454.07" r="1.04" fill="#2e2eff"/>
<circle cx="399.90" cy="598.32" r="1.04" fill="#2e2eff"/>
<circle cx="438.50" cy="598.32" r="1.04" fill="#2e2eff"/>
<circle cx="452.60" cy="598.32" r="1.04" fill="#2e2eff"/>
<circle cx="547.80" cy="528.68" r="1.04" fill="#2e2eff"/>
<circle cx="394.60" cy="603.29" r="1.05" fill="#2e2eff"/>
<circle cx="433.40" cy="603.29" r="1.05" fill="#2e2eff"/>
<circle cx="457.90" cy="603.29" r="1.05" fill="#2e2eff"/>
<circle cx="419.30" cy="603.29" r="1.06" fill="#2e2eff"/>
<circle cx="503.90" cy="459.04" r="1.06" fill="#2e2eff"/>
<circle cx="594.50" cy="538.63" r="1.06" fill="#2e2eff"/>
<circle cx="542.50" cy="523.71" r="1.07" fill="#2e2eff"/>
<circle cx="484.50" cy="588.37" r="1.07" fill="#2e2eff"/>
<circle cx="523.30" cy="588.37" r="1.07" fill="#2e2eff"/>
<circle cx="414.00" cy="598.32" r="1.07" fill="#2e2eff"/>
<circle cx="509.20" cy="464.02" r="1.08" fill="#2e2eff"/>
<circle cx="547.80" cy="518.73" r="1.09" fill="#2e2eff"/>
<circle cx="489.80" cy="583.39" r="1.10" fill="#2e2eff"/>
<circle cx="528.40" cy="583.39" r="1.10" fill="#2e2eff"/>
<circle cx="503.90" cy="468.99" r="1.11" fill="#2e2eff"/>
<circle cx="542.50" cy="513.76" r="1.11" fill="#2e2eff"/>
<circle cx="419.30" cy="593.34" r="1.12" fill="#2e2eff"/>
<circle cx="484.50" cy="578.42" r="1.13" fill="#2e2eff"/>
<circle cx="523.30" cy="578.42" r="1.13" fill="#2e2eff"/>
<circle cx="547.80" cy="508.78" r="1.13" fill="#2e2eff"/>
<circle cx="509.20" cy="473.97" r="1.15" fill="#2e2eff"/>
<circle cx="542.50" cy="503.81" r="1.16" fill="#2e2eff"/>
<circle cx="489.80" cy="573.45" r="1.16" fill="#2e2eff"/>
<circle cx="528.40" cy="573.45" r="1.16" fill="#2e2eff"/>
<circle cx="599.80" cy="543.60" r="1.17" fill="#2e2eff"/>
<circle cx="547.80" cy="498.84" r="1.18" fill="#2e2eff"/>
<circle cx="414.00" cy="538.63" r="1.20" fill="#2e2eff"/>
<circle cx="484.50" cy="568.47" r="1.20" fill="#2e2eff"/>
<circle cx="523.30" cy="568.47" r="1.20" fill="#2e2eff"/>
<circle cx="542.50" cy="493.86" r="1.20" fill="#8888ff" stroke="#2424ff" stroke-width="0.9"/>
<circle cx="503.90" cy="478.94" r="1.21" fill="#8888ff" stroke="#2424ff" stroke-width="0.9"/>
<circle cx="547.80" cy="488.89" r="1.23" fill="#8888ff" stroke="#2424ff" stroke-width="0.9"/>
<circle cx="489.80" cy="563.50" r="1.24" fill="#8888ff" stroke="#2424ff" stroke-width="0.9"/>
<circle cx="528.40" cy="563.50" r="1.24" fill="#8888ff" stroke="#2424ff" stroke-width="0.9"/>
<circle cx="594.50" cy="598.32" r="1.25" fill="#8888ff" stroke="#2424ff" stroke-width="0.9"/>
<circle cx="599.80" cy="603.29" r="1.25" fill="#8888ff" stroke="#2424ff" stroke-width="0.9"/>
<circle cx="542.50" cy="483.91" r="1.25" fill="#8888ff" stroke="#2424ff" stroke-width="0.9"/>
<circle cx="599.80" cy="593.34" r="1.25" fill="#8888ff" stroke="#2424ff" stroke-width="0.9"/>
<circle cx="594.50" cy="588.37" r="1.27" fill="#8888ff" stroke="#2424ff" stroke-width="0.9"/>
<circle cx="547.80" cy="478.94" r="1.27" fill="#8888ff" stroke="#2424ff" stroke-width="0.9"/>
<circle cx="484.50" cy="558.52" r="1.28" fill="#8888ff" stroke="#2424ff" stroke-width="0.9"/>
<circle cx="523.30" cy="558.52" r="1.28" fill="#8888ff" stroke="#2424ff" stroke-width="0.9"/>
<circle cx="509.20" cy="483.91" r="1.28" fill="#8888ff" stroke="#2424ff" stroke-width="0.9"/>
<circle cx="414.00" cy="588.37" r="1.29" fill="#8888ff" stroke="#2424ff" stroke-width="0.9"/>
<circle cx="542.50" cy="473.97" r="1.29" fill="#8888ff" stroke="#2424ff" stroke-width="0.9"/>
<circle cx="489.80" cy="553.55" r="1.32" fill="#8888ff" stroke="#2424ff" stroke-width="0.9"/>
<circle cx="528.40" cy="553.55" r="1.32" fill="#8888ff" stroke="#2424ff" stroke-width="0.9"/>
<circle cx="547.80" cy="468.99" r="1.32" fill="#8888ff" stroke="#2424ff" stroke-width="0.9"/>
<circle cx="599.80" cy="583.39" r="1.34" fill="#8888ff" stroke="#2424ff" stroke-width="0.9"/>
<circle cx="542.50" cy="464.02" r="1.34" fill="#8888ff" stroke="#2424ff" stroke-width="0.9"/>
<circle cx="484.50" cy="548.58" r="1.36" fill="#8888ff" stroke="#2424ff" stroke-width="0.9"/>
<circle cx="523.30" cy="548.58" r="1.36" fill="#8888ff" stroke="#2424ff" stroke-width="0.9"/>
<circle cx="547.80" cy="459.04" r="1.36" fill="#8888ff" stroke="#2424ff" stroke-width="0.9"/>
<circle cx="503.90" cy="488.89" r="1.37" fill="#8888ff" stroke="#2424ff" stroke-width="0.9"/>
<circle cx="542.50" cy="454.07" r="1.39" fill="#8888ff" stroke="#2424ff" stroke-width="0.9"/>
<circle cx="489.80" cy="543.60" r="1.40" fill="#8888ff" stroke="#2424ff" stroke-width="0.9"/>
<circle cx="528.40" cy="543.60" r="1.40" fill="#8888ff" stroke="#2424ff" stroke-width="0.9"/>
<circle cx="594.50" cy="548.58" r="1.41" fill="#8888ff" stroke="#2424ff" stroke-width="0.9"/>
<circle cx="547.80" cy="449.10" r="1.41" fill="#8888ff" stroke="#2424ff" stroke-width="0.9"/>
<circle cx="542.50" cy="444.12" r="1.43" fill="#8888ff" stroke="#2424ff" stroke-width="0.9"/>
<circle cx="484.50" cy="538.63" r="1.44" fill="#8888ff" stroke="#2424ff" stroke-width="0.9"/>
<circle cx="523.30" cy="538.63" r="1.44" fill="#8888ff" stroke="#2424ff" stroke-width="0.9"/>
<circle cx="547.80" cy="439.15" r="1.45" fill="#8888ff" stroke="#2424ff" stroke-width="0.9"/>
<circle cx="542.50" cy="434.17" r="1.48" fill="#8888ff" stroke="#2424ff" stroke-width="0.9"/>
<circle cx="489.80" cy="533.65" r="1.49" fill="#8888ff" stroke="#2424ff" stroke-width="0.9"/>
<circle cx="528.40" cy="533.65" r="1.49" fill="#8888ff" stroke="#2424ff" stroke-width="0.9"/>
<circle cx="509.20" cy="493.86" r="1.49" fill="#8888ff" stroke="#2424ff" stroke-width="0.9"/>
<circle cx="547.80" cy="429.20" r="1.50" fill="#8888ff" stroke="#2424ff" stroke-width="0.9"/>
<circle cx="599.80" cy="429.20" r="1.50" fill="#8888ff" stroke="#2424ff" stroke-width="0.9"/>
<circle cx="594.50" cy="434.17" r="1.50" fill="#8888ff" stroke="#2424ff" stroke-width="0.9"/>
<circle cx="599.80" cy="439.15" r="1.50" fill="#8888ff" stroke="#2424ff" stroke-width="0.9"/>
<circle cx="594.50" cy="444.12" r="1.50" fill="#8888ff" stroke="#2424ff" stroke-width="0.9"/>
<circle cx="599.80" cy="449.10" r="1.50" fill="#8888ff" stroke="#2424ff" stroke-width="0.9"/>
<circle cx="594.50" cy="454.07" r="1.51" fill="#8888ff" stroke="#2424ff" stroke-width="0.9"/>
<circle cx="599.80" cy="459.04" r="1.51" fill="#8888ff" stroke="#2424ff" stroke-width="0.9"/>
<circle cx="594.50" cy="464.02" r="1.51" fill="#8888ff" stroke="#2424ff" stroke-width="0.9"/>
<circle cx="599.80" cy="468.99" r="1.52" fill="#8888ff" stroke="#2424ff" stroke-width="0.9"/>
<circle cx="594.50" cy="473.97" r="1.52" fill="#8888ff" stroke="#2424ff" stroke-width="0.9"/>
<circle cx="484.50" cy="528.68" r="1.53" fill="#8888ff" stroke="#2424ff" stroke-width="0.9"/>
<circle cx="523.30" cy="528.68" r="1.53" fill="#8888ff" stroke="#2424ff" stroke-width="0.9"/>
<circle cx="599.80" cy="478.94" r="1.53" fill="#8888ff" stroke="#2424ff" stroke-width="0.9"/>
<circle cx="594.50" cy="578.42" r="1.54" fill="#8888ff" stroke="#2424ff" stroke-width="0.9"/>
<circle cx="594.50" cy="483.91" r="1.54" fill="#8888ff" stroke="#2424ff" stroke-width="0.9"/>
<circle cx="633.10" cy="434.17" r="1.55" fill="#8888ff" stroke="#2424ff" stroke-width="0.9"/>
<circle cx="633.10" cy="444.12" r="1.55" fill="#8888ff" stroke="#2424ff" stroke-width="0.9"/>
<circle cx="633.10" cy="454.07" r="1.55" fill="#8888ff" stroke="#2424ff" stroke-width="0.9"/>
<circle cx="633.10" cy="464.02" r="1.55" fill="#8888ff" stroke="#2424ff" stroke-width="0.9"/>
<circle cx="633.10" cy="473.97" r="1.55" fill="#8888ff" stroke="#2424ff" stroke-width="0.9"/>
<circle cx="633.10" cy="483.91" r="1.55" fill="#8888ff" stroke="#2424ff" stroke-width="0.9"/>
<circle cx="633.10" cy="493.86" r="1.55" fill="#8888ff" stroke="#2424ff" stroke-width="0.9"/>
<circle cx="633.10" cy="503.81" r="1.55" fill="#8888ff" stroke="#2424ff" stroke-width="0.9"/>
<circle cx="633.10" cy="513.76" r="1.55" fill="#8888ff" stroke="#2424ff" stroke-width="0.9"/>
<circle cx="633.10" cy="523.71" r="1.55" fill="#8888ff" stroke="#2424ff" stroke-width="0.9"/>
<circle cx="633.10" cy="533.65" r="1.55" fill="#8888ff" stroke="#2424ff" stroke-width="0.9"/>
<circle cx="633.10" cy="543.60" r="1.55" fill="#8888ff" stroke="#2424ff" stroke-width="0.9"/>
<circle cx="633.10" cy="553.55" r="1.55" fill="#8888ff" stroke="#2424ff" stroke-width="0.9"/>
<circle cx="633.10" cy="563.50" r="1.55" fill="#8888ff" stroke="#2424ff" stroke-width="0.9"/>
<circle cx="633.10" cy="573.45" r="1.55" fill="#8888ff" stroke="#2424ff" stroke-width="0.9"/>
<circle cx="633.10" cy="583.39" r="1.55" fill="#8888ff" stroke="#2424ff" stroke-width="0.9"/>
<circle cx="633.10" cy="593.34" r="1.55" fill="#8888ff" stroke="#2424ff" stroke-width="0.9"/>
<circle cx="633.10" cy="603.29" r="1.55" fill="#8888ff" stroke="#2424ff" stroke-width="0.9"/>
<circle cx="638.40" cy="429.20" r="1.55" fill="#8888ff" stroke="#2424ff" stroke-width="0.9"/>
<circle cx="638.40" cy="439.15" r="1.55" fill="#8888ff" stroke="#2424ff" stroke-width="0.9"/>
<circle cx="638.40" cy="449.10" r="1.55" fill="#8888ff" stroke="#2424ff" stroke-width="0.9"/>
<circle cx="638.40" cy="459.04" r="1.55" fill="#8888ff" stroke="#2424ff" stroke-width="0.9"/>
<circle cx="638.40" cy="468.99" r="1.55" fill="#8888ff" stroke="#2424ff" stroke-width="0.9"/>
<circle cx="638.40" cy="478.94" r="1.55" fill="#8888ff" stroke="#2424ff" stroke-width="0.9"/>
<circle cx="638.40" cy="488.89" r="1.55" fill="#8888ff" stroke="#2424ff" stroke-width="0.9"/>
<circle cx="638.40" cy="498.84" r="1.55" fill="#8888ff" stroke="#2424ff" stroke-width="0.9"/>
<circle cx="638.40" cy="508.78" r="1.55" fill="#8888ff" stroke="#2424ff" stroke-width="0.9"/>
<circle cx="638.40" cy="518.73" r="1.55" fill="#8888ff" stroke="#2424ff" stroke-width="0.9"/>
<circle cx="638.40" cy="528.68" r="1.55" fill="#8888ff" stroke="#2424ff" stroke-width="0.9"/>
<circle cx="638.40" cy="538.63" r="1.55" fill="#8888ff" stroke="#2424ff" stroke-width="0.9"/>
<circle cx="638.40" cy="548.58" r="1.55" fill="#8888ff" stroke="#2424ff" stroke-width="0.9"/>
<circle cx="638.40" cy="558.52" r="1.55" fill="#8888ff" stroke="#2424ff" stroke-width="0.9"/>
<circle cx="638.40" cy="568.47" r="1.55" fill="#8888ff" stroke="#2424ff" stroke-width="0.9"/>
<circle cx="638.40" cy="578.42" r="1.55" fill="#8888ff" stroke="#2424ff" stroke-width="0.9"/>
<circle cx="638.40" cy="588.37" r="1.55" fill="#8888ff" stroke="#2424ff" stroke-width="0.9"/>
<circle cx="638.40" cy="598.32" r="1.55" fill="#8888ff" stroke="#2424ff" stroke-width="0.9"/>
<circle cx="419.30" cy="543.60" r="1.55" fill="#8888ff" stroke="#2424ff" stroke-width="0.9"/>
<circle cx="599.80" cy="488.89" r="1.56" fill="#8888ff" stroke="#2424ff" stroke-width="0.9"/>
<circle cx="489.80" cy="523.71" r="1.58" fill="#8888ff" stroke="#2424ff" stroke-width="0.9"/>
<circle cx="528.40" cy="523.71" r="1.58" fill="#8888ff" stroke="#2424ff" stroke-width="0.9"/>
<circle cx="594.50" cy="493.86" r="1.58" fill="#8888ff" stroke="#2424ff" stroke-width="0.9"/>
<circle cx="599.80" cy="498.84" r="1.61" fill="#8888ff" stroke="#2424ff" stroke-width="0.9"/>
<circle cx="484.50" cy="518.73" r="1.63" fill="#8888ff" stroke="#2424ff" stroke-width="0.9"/>
<circle cx="523.30" cy="518.73" r="1.63" fill="#8888ff" stroke="#2424ff" stroke-width="0.9"/>
<circle cx="503.90" cy="498.84" r="1.63" fill="#8888ff" stroke="#2424ff" stroke-width="0.9"/>
<circle cx="419.30" cy="583.39" r="1.64" fill="#8888ff" stroke="#2424ff" stroke-width="0.9"/>
<circle cx="594.50" cy="503.81" r="1.65" fill="#8888ff" stroke="#2424ff" stroke-width="0.9"/>
<circle cx="489.80" cy="513.76" r="1.67" fill="#8888ff" stroke="#2424ff" stroke-width="0.9"/>
<circle cx="528.40" cy="513.76" r="1.67" fill="#8888ff" stroke="#2424ff" stroke-width="0.9"/>
<circle cx="599.80" cy="508.78" r="1.71" fill="#8888ff" stroke="#2424ff" stroke-width="0.9"/>
<circle cx="484.50" cy="508.78" r="1.72" fill="#8888ff" stroke="#2424ff" stroke-width="0.9"/>
<circle cx="523.30" cy="508.78" r="1.72" fill="#8888ff" stroke="#2424ff" stroke-width="0.9"/>
<circle cx="594.50" cy="513.76" r="1.77" fill="#8888ff" stroke="#2424ff" stroke-width="0.9"/>
<circle cx="489.80" cy="503.81" r="1.77" fill="#8888ff" stroke="#2424ff" stroke-width="0.9"/>
<circle cx="528.40" cy="503.81" r="1.77" fill="#8888ff" stroke="#2424ff" stroke-width="0.9"/>
<circle cx="394.60" cy="429.20" r="1.80" fill="#8888ff" stroke="#2424ff" stroke-width="0.9"/>
<circle cx="419.30" cy="429.20" r="1.80" fill="#8888ff" stroke="#2424ff" stroke-width="0.9"/>
<circle cx="433.40" cy="429.20" r="1.80" fill="#8888ff" stroke="#2424ff" stroke-width="0.9"/>
<circle cx="457.90" cy="429.20" r="1.80" fill="#8888ff" stroke="#2424ff" stroke-width="0.9"/>
<circle cx="509.20" cy="503.81" r="1.80" fill="#8888ff" stroke="#2424ff" stroke-width="0.9"/>
<circle cx="599.80" cy="553.55" r="1.81" fill="#8888ff" stroke="#2424ff" stroke-width="0.9"/>
<circle cx="484.50" cy="498.84" r="1.82" fill="#8888ff" stroke="#2424ff" stroke-width="0.9"/>
<circle cx="523.30" cy="498.84" r="1.82" fill="#8888ff" stroke="#2424ff" stroke-width="0.9"/>
<circle cx="399.90" cy="434.17" r="1.83" fill="#8888ff" stroke="#2424ff" stroke-width="0.9"/>
<circle cx="414.00" cy="434.17" r="1.83" fill="#8888ff" stroke="#2424ff" stroke-width="0.9"/>
<circle cx="438.50" cy="434.17" r="1.83" fill="#8888ff" stroke="#2424ff" stroke-width="0.9"/>
<circle cx="452.60" cy="434.17" r="1.83" fill="#8888ff" stroke="#2424ff" stroke-width="0.9"/>
<circle cx="599.80" cy="518.73" r="1.85" fill="#8888ff" stroke="#2424ff" stroke-width="0.9"/>
<circle cx="394.60" cy="439.15" r="1.86" fill="#8888ff" stroke="#2424ff" stroke-width="0.9"/>
<circle cx="419.30" cy="439.15" r="1.86" fill="#8888ff" stroke="#2424ff" stroke-width="0.9"/>
<circle cx="433.40" cy="439.15" r="1.86" fill="#8888ff" stroke="#2424ff" stroke-width="0.9"/>
<circle cx="457.90" cy="439.15" r="1.86" fill="#8888ff" stroke="#2424ff" stroke-width="0.9"/>
<circle cx="489.80" cy="493.86" r="1.87" fill="#8888ff" stroke="#2424ff" stroke-width="0.9"/>
<circle cx="528.40" cy="493.86" r="1.87" fill="#8888ff" stroke="#2424ff" stroke-width="0.9"/>
<circle cx="399.90" cy="444.12" r="1.88" fill="#8888ff" stroke="#2424ff" stroke-width="0.9"/>
<circle cx="414.00" cy="444.12" r="1.88" fill="#8888ff" stroke="#2424ff" stroke-width="0.9"/>
<circle cx="438.50" cy="444.12" r="1.88" fill="#8888ff" stroke="#2424ff" stroke-width="0.9"/>
<circle cx="452.60" cy="444.12" r="1.88" fill="#8888ff" stroke="#2424ff" stroke-width="0.9"/>
<circle cx="575.10" cy="429.20" r="1.90" fill="#8888ff" stroke="#2424ff" stroke-width="0.9"/>
<circle cx="575.10" cy="439.15" r="1.90" fill="#8888ff" stroke="#2424ff" stroke-width="0.9"/>
<circle cx="575.10" cy="449.10" r="1.90" fill="#8888ff" stroke="#2424ff" stroke-width="0.9"/>
<circle cx="575.10" cy="459.04" r="1.90" fill="#8888ff" stroke="#2424ff" stroke-width="0.9"/>
<circle cx="575.10" cy="468.99" r="1.90" fill="#8888ff" stroke="#2424ff" stroke-width="0.9"/>
<circle cx="575.10" cy="478.94" r="1.90" fill="#8888ff" stroke="#2424ff" stroke-width="0.9"/>
<circle cx="575.10" cy="488.89" r="1.90" fill="#8888ff" stroke="#2424ff" stroke-width="0.9"/>
<circle cx="575.10" cy="498.84" r="1.90" fill="#8888ff" stroke="#2424ff" stroke-width="0.9"/>
<circle cx="575.10" cy="508.78" r="1.90" fill="#8888ff" stroke="#2424ff" stroke-width="0.9"/>
<circle cx="575.10" cy="518.73" r="1.90" fill="#8888ff" stroke="#2424ff" stroke-width="0.9"/>
<circle cx="575.10" cy="528.68" r="1.90" fill="#8888ff" stroke="#2424ff" stroke-width="0.9"/>
<circle cx="575.10" cy="538.63" r="1.90" fill="#8888ff" stroke="#2424ff" stroke-width="0.9"/>
<circle cx="575.10" cy="548.58" r="1.90" fill="#8888ff" stroke="#2424ff" stroke-width="0.9"/>
<circle cx="575.10" cy="558.52" r="1.90" fill="#8888ff" stroke="#2424ff" stroke-width="0.9"/>
<circle cx="575.10" cy="568.47" r="1.90" fill="#8888ff" stroke="#2424ff" stroke-width="0.9"/>
<circle cx="575.10" cy="578.42" r="1.90" fill="#8888ff" stroke="#2424ff" stroke-width="0.9"/>
<circle cx="575.10" cy="588.37" r="1.90" fill="#8888ff" stroke="#2424ff" stroke-width="0.9"/>
<circle cx="575.10" cy="598.32" r="1.90" fill="#8888ff" stroke="#2424ff" stroke-width="0.9"/>
<circle cx="580.40" cy="434.17" r="1.90" fill="#8888ff" stroke="#2424ff" stroke-width="0.9"/>
<circle cx="580.40" cy="444.12" r="1.90" fill="#8888ff" stroke="#2424ff" stroke-width="0.9"/>
<circle cx="580.40" cy="454.07" r="1.90" fill="#8888ff" stroke="#2424ff" stroke-width="0.9"/>
<circle cx="580.40" cy="464.02" r="1.90" fill="#8888ff" stroke="#2424ff" stroke-width="0.9"/>
<circle cx="580.40" cy="473.97" r="1.90" fill="#8888ff" stroke="#2424ff" stroke-width="0.9"/>
<circle cx="580.40" cy="483.91" r="1.90" fill="#8888ff" stroke="#2424ff" stroke-width="0.9"/>
<circle cx="580.40" cy="493.86" r="1.90" fill="#8888ff" stroke="#2424ff" stroke-width="0.9"/>
<circle cx="580.40" cy="503.81" r="1.90" fill="#8888ff" stroke="#2424ff" stroke-width="0.9"/>
<circle cx="580.40" cy="513.76" r="1.90" fill="#8888ff" stroke="#2424ff" stroke-width="0.9"/>
<circle cx="580.40" cy="523.71" r="1.90" fill="#8888ff" stroke="#2424ff" stroke-width="0.9"/>
<circle cx="580.40" cy="533.65" r="1.90" fill="#8888ff" stroke="#2424ff" stroke-width="0.9"/>
<circle cx="580.40" cy="543.60" r="1.90" fill="#8888ff" stroke="#2424ff" stroke-width="0.9"/>
<circle cx="580.40" cy="553.55" r="1.90" fill="#8888ff" stroke="#2424ff" stroke-width="0.9"/>
<circle cx="580.40" cy="563.50" r="1.90" fill="#8888ff" stroke="#2424ff" stroke-width="0.9"/>
<circle cx="580.40" cy="573.45" r="1.90" fill="#8888ff" stroke="#2424ff" stroke-width="0.9"/>
<circle cx="580.40" cy="583.39" r="1.90" fill="#8888ff" stroke="#2424ff" stroke-width="0.9"/>
<circle cx="580.40" cy="593.34" r="1.90" fill="#8888ff" stroke="#2424ff" stroke-width="0.9"/>
<circle cx="580.40" cy="603.29" r="1.90" fill="#8888ff" stroke="#2424ff" stroke-width="0.9"/>
<circle cx="613.90" cy="429.20" r="1.90" fill="#8888ff" stroke="#2424ff" stroke-width="0.9"/>
<circle cx="613.90" cy="439.15" r="1.90" fill="#8888ff" stroke="#2424ff" stroke-width="0.9"/>
<circle cx="613.90" cy="449.10" r="1.90" fill="#8888ff" stroke="#2424ff" stroke-width="0.9"/>
<circle cx="613.90" cy="459.04" r="1.90" fill="#8888ff" stroke="#2424ff" stroke-width="0.9"/>
<circle cx="613.90" cy="468.99" r="1.90" fill="#8888ff" stroke="#2424ff" stroke-width="0.9"/>
<circle cx="613.90" cy="478.94" r="1.90" fill="#8888ff" stroke="#2424ff" stroke-width="0.9"/>
<circle cx="613.90" cy="488.89" r="1.90" fill="#8888ff" stroke="#2424ff" stroke-width="0.9"/>
<circle cx="613.90" cy="498.84" r="1.90" fill="#8888ff" stroke="#2424ff" stroke-width="0.9"/>
<circle cx="613.90" cy="508.78" r="1.90" fill="#8888ff" stroke="#2424ff" stroke-width="0.9"/>
<circle cx="613.90" cy="518.73" r="1.90" fill="#8888ff" stroke="#2424ff" stroke-width="0.9"/>
<circle cx="613.90" cy="528.68" r="1.90" fill="#8888ff" stroke="#2424ff" stroke-width="0.9"/>
<circle cx="613.90" cy="538.63" r="1.90" fill="#8888ff" stroke="#2424ff" stroke-width="0.9"/>
<circle cx="613.90" cy="548.58" r="1.90" fill="#8888ff" stroke="#2424ff" stroke-width="0.9"/>
<circle cx="613.90" cy="558.52" r="1.90" fill="#8888ff" stroke="#2424ff" stroke-width="0.9"/>
<circle cx="613.90" cy="568.47" r="1.90" fill="#8888ff" stroke="#2424ff" stroke-width="0.9"/>
<circle cx="613.90" cy="578.42" r="1.90" fill="#8888ff" stroke="#2424ff" stroke-width="0.9"/>
<circle cx="613.90" cy="588.37" r="1.90" fill="#8888ff" stroke="#2424ff" stroke-width="0.9"/>
<circle cx="613.90" cy="598.32" r="1.90" fill="#8888ff" stroke="#2424ff" stroke-width="0.9"/>
<circle cx="619.00" cy="434.17" r="1.90" fill="#8888ff" stroke="#2424ff" stroke-width="0.9"/>
<circle cx="619.00" cy="444.12" r="1.90" fill="#8888ff" stroke="#2424ff" stroke-width="0.9"/>
<circle cx="619.00" cy="454.07" r="1.90" fill="#8888ff" stroke="#2424ff" stroke-width="0.9"/>
<circle cx="619.00" cy="464.02" r="1.90" fill="#8888ff" stroke="#2424ff" stroke-width="0.9"/>
<circle cx="619.00" cy="473.97" r="1.90" fill="#8888ff" stroke="#2424ff" stroke-width="0.9"/>
<circle cx="619.00" cy="483.91" r="1.90" fill="#8888ff" stroke="#2424ff" stroke-width="0.9"/>
<circle cx="619.00" cy="493.86" r="1.90" fill="#8888ff" stroke="#2424ff" stroke-width="0.9"/>
<circle cx="619.00" cy="503.81" r="1.90" fill="#8888ff" stroke="#2424ff" stroke-width="0.9"/>
<circle cx="619.00" cy="513.76" r="1.90" fill="#8888ff" stroke="#2424ff" stroke-width="0.9"/>
<circle cx="619.00" cy="523.71" r="1.90" fill="#8888ff" stroke="#2424ff" stroke-width="0.9"/>
<circle cx="619.00" cy="533.65" r="1.90" fill="#8888ff" stroke="#2424ff" stroke-width="0.9"/>
<circle cx="619.00" cy="543.60" r="1.90" fill="#8888ff" stroke="#2424ff" stroke-width="0.9"/>
<circle cx="619.00" cy="553.55" r="1.90" fill="#8888ff" stroke="#2424ff" stroke-width="0.9"/>
<circle cx="619.00" cy="563.50" r="1.90" fill="#8888ff" stroke="#2424ff" stroke-width="0.9"/>
<circle cx="619.00" cy="573.45" r="1.90" fill="#8888ff" stroke="#2424ff" stroke-width="0.9"/>
<circle cx="619.00" cy="583.39" r="1.90" fill="#8888ff" stroke="#2424ff" stroke-width="0.9"/>
<circle cx="619.00" cy="593.34" r="1.90" fill="#8888ff" stroke="#2424ff" stroke-width="0.9"/>
<circle cx="619.00" cy="603.29" r="1.90" fill="#8888ff" stroke="#2424ff" stroke-width="0.9"/>
<circle cx="394.60" cy="449.10" r="1.91" fill="#8888ff" stroke="#2424ff" stroke-width="0.9"/>
<circle cx="419.30" cy="449.10" r="1.91" fill="#8888ff" stroke="#2424ff" stroke-width="0.9"/>
<circle cx="433.40" cy="449.10" r="1.91" fill="#8888ff" stroke="#2424ff" stroke-width="0.9"/>
<circle cx="457.90" cy="449.10" r="1.91" fill="#8888ff" stroke="#2424ff" stroke-width="0.9"/>
<circle cx="599.80" cy="573.45" r="1.92" fill="#8888ff" stroke="#2424ff" stroke-width="0.9"/>
<circle cx="484.50" cy="488.89" r="1.93" fill="#8888ff" stroke="#2424ff" stroke-width="0.9"/>
<circle cx="523.30" cy="488.89" r="1.93" fill="#8888ff" stroke="#2424ff" stroke-width="0.9"/>
<circle cx="399.90" cy="454.07" r="1.94" fill="#8888ff" stroke="#2424ff" stroke-width="0.9"/>
<circle cx="414.00" cy="454.07" r="1.94" fill="#8888ff" stroke="#2424ff" stroke-width="0.9"/>
<circle cx="438.50" cy="454.07" r="1.94" fill="#8888ff" stroke="#2424ff" stroke-width="0.9"/>
<circle cx="452.60" cy="454.07" r="1.94" fill="#8888ff" stroke="#2424ff" stroke-width="0.9"/>
<circle cx="594.50" cy="523.71" r="1.94" fill="#8888ff" stroke="#2424ff" stroke-width="0.9"/>
<circle cx="394.60" cy="459.04" r="1.96" fill="#8888ff" stroke="#2424ff" stroke-width="0.9"/>
<circle cx="419.30" cy="459.04" r="1.96" fill="#8888ff" stroke="#2424ff" stroke-width="0.9"/>
<circle cx="433.40" cy="459.04" r="1.96" fill="#8888ff" stroke="#2424ff" stroke-width="0.9"/>
<circle cx="457.90" cy="459.04" r="1.96" fill="#8888ff" stroke="#2424ff" stroke-width="0.9"/>
<circle cx="489.80" cy="483.91" r="1.98" fill="#8888ff" stroke="#2424ff" stroke-width="0.9"/>
<circle cx="528.40" cy="483.91" r="1.98" fill="#8888ff" stroke="#2424ff" stroke-width="0.9"/>
<circle cx="399.90" cy="464.02" r="1.99" fill="#8888ff" stroke="#2424ff" stroke-width="0.9"/>
<circle cx="414.00" cy="464.02" r="1.99" fill="#8888ff" stroke="#2424ff" stroke-width="0.9"/>
<circle cx="438.50" cy="464.02" r="1.99" fill="#8888ff" stroke="#2424ff" stroke-width="0.9"/>
<circle cx="452.60" cy="464.02" r="1.99" fill="#8888ff" stroke="#2424ff" stroke-width="0.9"/>
<circle cx="503.90" cy="508.78" r="1.99" fill="#8888ff" stroke="#2424ff" stroke-width="0.9"/>
<circle cx="394.60" cy="468.99" r="2.02" fill="#8888ff" stroke="#2424ff" stroke-width="0.9"/>
<circle cx="433.40" cy="468.99" r="2.02" fill="#8888ff" stroke="#2424ff" stroke-width="0.9"/>
<circle cx="457.90" cy="468.99" r="2.02" fill="#8888ff" stroke="#2424ff" stroke-width="0.9"/>
<circle cx="419.30" cy="468.99" r="2.02" fill="#8888ff" stroke="#2424ff" stroke-width="0.9"/>
<circle cx="484.50" cy="478.94" r="2.03" fill="#8888ff" stroke="#2424ff" stroke-width="0.9"/>
<circle cx="523.30" cy="478.94" r="2.03" fill="#8888ff" stroke="#2424ff" stroke-width="0.9"/>
<circle cx="599.80" cy="528.68" r="2.04" fill="#8888ff" stroke="#2424ff" stroke-width="0.9"/>
<circle cx="399.90" cy="473.97" r="2.04" fill="#8888ff" stroke="#2424ff" stroke-width="0.9"/>
<circle cx="438.50" cy="473.97" r="2.04" fill="#8888ff" stroke="#2424ff" stroke-width="0.9"/>
<circle cx="452.60" cy="473.97" r="2.04" fill="#8888ff" stroke="#2424ff" stroke-width="0.9"/>
<circle cx="414.00" cy="473.97" r="2.04" fill="#8888ff" stroke="#2424ff" stroke-width="0.9"/>
<circle cx="394.60" cy="478.94" r="2.07" fill="#8888ff" stroke="#2424ff" stroke-width="0.9"/>
<circle cx="433.40" cy="478.94" r="2.07" fill="#8888ff" stroke="#2424ff" stroke-width="0.9"/>
<circle cx="457.90" cy="478.94" r="2.07" fill="#8888ff" stroke="#2424ff" stroke-width="0.9"/>
<circle cx="419.30" cy="478.94" r="2.07" fill="#8888ff" stroke="#2424ff" stroke-width="0.9"/>
<circle cx="489.80" cy="473.97" r="2.09" fill="#8888ff" stroke="#2424ff" stroke-width="0.9"/>
<circle cx="528.40" cy="473.97" r="2.09" fill="#8888ff" stroke="#2424ff" stroke-width="0.9"/>
<circle cx="399.90" cy="483.91" r="2.10" fill="#8888ff" stroke="#2424ff" stroke-width="0.9"/>
<circle cx="438.50" cy="483.91" r="2.10" fill="#8888ff" stroke="#2424ff" stroke-width="0.9"/>
<circle cx="452.60" cy="483.91" r="2.10" fill="#8888ff" stroke="#2424ff" stroke-width="0.9"/>
<circle cx="414.00" cy="483.91" r="2.10" fill="#8888ff" stroke="#2424ff" stroke-width="0.9"/>
<circle cx="394.60" cy="488.89" r="2.13" fill="#8888ff" stroke="#2424ff" stroke-width="0.9"/>
<circle cx="433.40" cy="488.89" r="2.13" fill="#8888ff" stroke="#2424ff" stroke-width="0.9"/>
<circle cx="457.90" cy="488.89" r="2.13" fill="#8888ff" stroke="#2424ff" stroke-width="0.9"/>
<circle cx="419.30" cy="488.89" r="2.13" fill="#8888ff" stroke="#2424ff" stroke-width="0.9"/>
<circle cx="484.50" cy="468.99" r="2.14" fill="#8888ff" stroke="#2424ff" stroke-width="0.9"/>
<circle cx="523.30" cy="468.99" r="2.14" fill="#8888ff" stroke="#2424ff" stroke-width="0.9"/>
<circle cx="414.00" cy="548.58" r="2.14" fill="#8888ff" stroke="#2424ff" stroke-width="0.9"/>
<circle cx="399.90" cy="493.86" r="2.15" fill="#8888ff" stroke="#2424ff" stroke-width="0.9"/>
<circle cx="438.50" cy="493.86" r="2.15" fill="#8888ff" stroke="#2424ff" stroke-width="0.9"/>
<circle cx="452.60" cy="493.86" r="2.15" fill="#8888ff" stroke="#2424ff" stroke-width="0.9"/>
<circle cx="414.00" cy="493.86" r="2.15" fill="#8888ff" stroke="#2424ff" stroke-width="0.9"/>
<circle cx="594.50" cy="533.65" r="2.16" fill="#8888ff" stroke="#2424ff" stroke-width="0.9"/>
<circle cx="394.60" cy="498.84" r="2.18" fill="#8888ff" stroke="#2424ff" stroke-width="0.9"/>
<circle cx="433.40" cy="498.84" r="2.18" fill="#8888ff" stroke="#2424ff" stroke-width="0.9"/>
<circle cx="457.90" cy="498.84" r="2.18" fill="#8888ff" stroke="#2424ff" stroke-width="0.9"/>
<circle cx="419.30" cy="498.84" r="2.18" fill="#8888ff" stroke="#2424ff" stroke-width="0.9"/>
<circle cx="489.80" cy="464.02" r="2.20" fill="#8888ff" stroke="#2424ff" stroke-width="0.9"/>
<circle cx="528.40" cy="464.02" r="2.20" fill="#8888ff" stroke="#2424ff" stroke-width="0.9"/>
<circle cx="509.20" cy="513.76" r="2.20" fill="#8888ff" stroke="#2424ff" stroke-width="0.9"/>
<circle cx="399.90" cy="503.81" r="2.21" fill="#8888ff" stroke="#2424ff" stroke-width="0.9"/>
<circle cx="438.50" cy="503.81" r="2.21" fill="#8888ff" stroke="#2424ff" stroke-width="0.9"/>
<circle cx="452.60" cy="503.81" r="2.21" fill="#8888ff" stroke="#2424ff" stroke-width="0.9"/>
<circle cx="414.00" cy="503.81" r="2.21" fill="#8888ff" stroke="#2424ff" stroke-width="0.9"/>
<circle cx="394.60" cy="508.78" r="2.23" fill="#8888ff" stroke="#2424ff" stroke-width="0.9"/>
<circle cx="433.40" cy="508.78" r="2.23" fill="#8888ff" stroke="#2424ff" stroke-width="0.9"/>
<circle cx="457.90" cy="508.78" r="2.23" fill="#8888ff" stroke="#2424ff" stroke-width="0.9"/>
<circle cx="419.30" cy="508.78" r="2.23" fill="#8888ff" stroke="#2424ff" stroke-width="0.9"/>
<circle cx="414.00" cy="578.42" r="2.24" fill="#8888ff" stroke="#2424ff" stroke-width="0.9"/>
<circle cx="484.50" cy="459.04" r="2.25" fill="#8888ff" stroke="#2424ff" stroke-width="0.9"/>
<circle cx="523.30" cy="459.04" r="2.25" fill="#8888ff" stroke="#2424ff" stroke-width="0.9"/>
<circle cx="399.90" cy="513.76" r="2.26" fill="#8888ff" stroke="#2424ff" stroke-width="0.9"/>
<circle cx="438.50" cy="513.76" r="2.26" fill="#8888ff" stroke="#2424ff" stroke-width="0.9"/>
<circle cx="452.60" cy="513.76" r="2.26" fill="#8888ff" stroke="#2424ff" stroke-width="0.9"/>
<circle cx="414.00" cy="513.76" r="2.26" fill="#8888ff" stroke="#2424ff" stroke-width="0.9"/>
<circle cx="594.50" cy="558.52" r="2.27" fill="#8888ff" stroke="#2424ff" stroke-width="0.9"/>
<circle cx="394.60" cy="518.73" r="2.29" fill="#8888ff" stroke="#2424ff" stroke-width="0.9"/>
<circle cx="433.40" cy="518.73" r="2.29" fill="#8888ff" stroke="#2424ff" stroke-width="0.9"/>
<circle cx="457.90" cy="518.73" r="2.29" fill="#8888ff" stroke="#2424ff" stroke-width="0.9"/>
<circle cx="419.30" cy="518.73" r="2.29" fill="#8888ff" stroke="#2424ff" stroke-width="0.9"/>
<circle cx="599.80" cy="538.63" r="2.29" fill="#8888ff" stroke="#2424ff" stroke-width="0.9"/>
<circle cx="489.80" cy="454.07" r="2.31" fill="#8888ff" stroke="#2424ff" stroke-width="0.9"/>
<circle cx="528.40" cy="454.07" r="2.31" fill="#8888ff" stroke="#2424ff" stroke-width="0.9"/>
<circle cx="399.90" cy="523.71" r="2.32" fill="#8888ff" stroke="#2424ff" stroke-width="0.9"/>
<circle cx="438.50" cy="523.71" r="2.32" fill="#8888ff" stroke="#2424ff" stroke-width="0.9"/>
<circle cx="452.60" cy="523.71" r="2.32" fill="#8888ff" stroke="#2424ff" stroke-width="0.9"/>
<circle cx="414.00" cy="523.71" r="2.32" fill="#8888ff" stroke="#2424ff" stroke-width="0.9"/>
<circle cx="594.50" cy="568.47" r="2.33" fill="#8888ff" stroke="#2424ff" stroke-width="0.9"/>
<circle cx="394.60" cy="528.68" r="2.34" fill="#8888ff" stroke="#2424ff" stroke-width="0.9"/>
<circle cx="433.40" cy="528.68" r="2.34" fill="#8888ff" stroke="#2424ff" stroke-width="0.9"/>
<circle cx="457.90" cy="528.68" r="2.34" fill="#8888ff" stroke="#2424ff" stroke-width="0.9"/>
<circle cx="419.30" cy="528.68" r="2.36" fill="#8888ff" stroke="#2424ff" stroke-width="0.9"/>
<circle cx="484.50" cy="449.10" r="2.36" fill="#8888ff" stroke="#2424ff" stroke-width="0.9"/>
<circle cx="523.30" cy="449.10" r="2.36" fill="#8888ff" stroke="#2424ff" stroke-width="0.9"/>
<circle cx="399.90" cy="533.65" r="2.37" fill="#8888ff" stroke="#2424ff" stroke-width="0.9"/>
<circle cx="438.50" cy="533.65" r="2.37" fill="#8888ff" stroke="#2424ff" stroke-width="0.9"/>
<circle cx="452.60" cy="533.65" r="2.37" fill="#8888ff" stroke="#2424ff" stroke-width="0.9"/>
<circle cx="394.60" cy="538.63" r="2.40" fill="#8888ff" stroke="#2424ff" stroke-width="0.9"/>
<circle cx="433.40" cy="538.63" r="2.40" fill="#8888ff" stroke="#2424ff" stroke-width="0.9"/>
<circle cx="457.90" cy="538.63" r="2.40" fill="#8888ff" stroke="#2424ff" stroke-width="0.9"/>
<circle cx="503.90" cy="518.73" r="2.40" fill="#8888ff" stroke="#2424ff" stroke-width="0.9"/>
<circle cx="489.80" cy="444.12" r="2.42" fill="#8888ff" stroke="#2424ff" stroke-width="0.9"/>
<circle cx="528.40" cy="444.12" r="2.42" fill="#8888ff" stroke="#2424ff" stroke-width="0.9"/>
<circle cx="399.90" cy="543.60" r="2.42" fill="#8888ff" stroke="#2424ff" stroke-width="0.9"/>
<circle cx="438.50" cy="543.60" r="2.42" fill="#8888ff" stroke="#2424ff" stroke-width="0.9"/>
<circle cx="452.60" cy="543.60" r="2.42" fill="#8888ff" stroke="#2424ff" stroke-width="0.9"/>
<circle cx="414.00" cy="533.65" r="2.43" fill="#8888ff" stroke="#2424ff" stroke-width="0.9"/>
<circle cx="394.60" cy="548.58" r="2.45" fill="#8888ff" stroke="#2424ff" stroke-width="0.9"/>
<circle cx="433.40" cy="548.58" r="2.45" fill="#8888ff" stroke="#2424ff" stroke-width="0.9"/>
<circle cx="457.90" cy="548.58" r="2.45" fill="#8888ff" stroke="#2424ff" stroke-width="0.9"/>
<circle cx="594.50" cy="543.60" r="2.46" fill="#8888ff" stroke="#2424ff" stroke-width="0.9"/>
<circle cx="399.90" cy="553.55" r="2.48" fill="#8888ff" stroke="#2424ff" stroke-width="0.9"/>
<circle cx="438.50" cy="553.55" r="2.48" fill="#8888ff" stroke="#2424ff" stroke-width="0.9"/>
<circle cx="452.60" cy="553.55" r="2.48" fill="#8888ff" stroke="#2424ff" stroke-width="0.9"/>
<circle cx="509.20" cy="429.20" r="2.48" fill="#8888ff" stroke="#2424ff" stroke-width="0.9"/>
<circle cx="484.50" cy="439.15" r="2.48" fill="#8888ff" stroke="#2424ff" stroke-width="0.9"/>
<circle cx="523.30" cy="439.15" r="2.48" fill="#8888ff" stroke="#2424ff" stroke-width="0.9"/>
<circle cx="503.90" cy="434.17" r="2.49" fill="#8888ff" stroke="#2424ff" stroke-width="0.9"/>
<circle cx="599.80" cy="563.50" r="2.50" fill="#8888ff" stroke="#2424ff" stroke-width="0.9"/>
<circle cx="509.20" cy="439.15" r="2.50" fill="#8888ff" stroke="#2424ff" stroke-width="0.9"/>
<circle cx="394.60" cy="558.52" r="2.50" fill="#8888ff" stroke="#2424ff" stroke-width="0.9"/>
<circle cx="433.40" cy="558.52" r="2.50" fill="#8888ff" stroke="#2424ff" stroke-width="0.9"/>
<circle cx="457.90" cy="558.52" r="2.50" fill="#8888ff" stroke="#2424ff" stroke-width="0.9"/>
<circle cx="503.90" cy="444.12" r="2.53" fill="#8888ff" stroke="#2424ff" stroke-width="0.9"/>
<circle cx="399.90" cy="563.50" r="2.53" fill="#8888ff" stroke="#2424ff" stroke-width="0.9"/>
<circle cx="438.50" cy="563.50" r="2.53" fill="#8888ff" stroke="#2424ff" stroke-width="0.9"/>
<circle cx="452.60" cy="563.50" r="2.53" fill="#8888ff" stroke="#2424ff" stroke-width="0.9"/>
<circle cx="489.80" cy="434.17" r="2.54" fill="#8888ff" stroke="#2424ff" stroke-width="0.9"/>
<circle cx="528.40" cy="434.17" r="2.54" fill="#8888ff" stroke="#2424ff" stroke-width="0.9"/>
<circle cx="509.20" cy="449.10" r="2.55" fill="#8888ff" stroke="#2424ff" stroke-width="0.9"/>
<circle cx="394.60" cy="568.47" r="2.56" fill="#8888ff" stroke="#2424ff" stroke-width="0.9"/>
<circle cx="433.40" cy="568.47" r="2.56" fill="#8888ff" stroke="#2424ff" stroke-width="0.9"/>
<circle cx="457.90" cy="568.47" r="2.56" fill="#8888ff" stroke="#2424ff" stroke-width="0.9"/>
<circle cx="419.30" cy="538.63" r="2.56" fill="#8888ff" stroke="#2424ff" stroke-width="0.9"/>
<circle cx="399.90" cy="573.45" r="2.59" fill="#8888ff" stroke="#2424ff" stroke-width="0.9"/>
<circle cx="438.50" cy="573.45" r="2.59" fill="#8888ff" stroke="#2424ff" stroke-width="0.9"/>
<circle cx="452.60" cy="573.45" r="2.59" fill="#8888ff" stroke="#2424ff" stroke-width="0.9"/>
<circle cx="503.90" cy="454.07" r="2.59" fill="#8888ff" stroke="#2424ff" stroke-width="0.9"/>
<circle cx="484.50" cy="429.20" r="2.60" fill="#8888ff" stroke="#2424ff" stroke-width="0.9"/>
<circle cx="523.30" cy="429.20" r="2.60" fill="#8888ff" stroke="#2424ff" stroke-width="0.9"/>
<circle cx="509.20" cy="523.71" r="2.60" fill="#8888ff" stroke="#2424ff" stroke-width="0.9"/>
<circle cx="394.60" cy="578.42" r="2.61" fill="#8888ff" stroke="#2424ff" stroke-width="0.9"/>
<circle cx="433.40" cy="578.42" r="2.61" fill="#8888ff" stroke="#2424ff" stroke-width="0.9"/>
<circle cx="457.90" cy="578.42" r="2.61" fill="#8888ff" stroke="#2424ff" stroke-width="0.9"/>
<circle cx="399.90" cy="583.39" r="2.64" fill="#8888ff" stroke="#2424ff" stroke-width="0.9"/>
<circle cx="438.50" cy="583.39" r="2.64" fill="#8888ff" stroke="#2424ff" stroke-width="0.9"/>
<circle cx="452.60" cy="583.39" r="2.64" fill="#8888ff" stroke="#2424ff" stroke-width="0.9"/>
<circle cx="509.20" cy="459.04" r="2.64" fill="#8888ff" stroke="#2424ff" stroke-width="0.9"/>
<circle cx="394.60" cy="588.37" r="2.67" fill="#8888ff" stroke="#2424ff" stroke-width="0.9"/>
<circle cx="433.40" cy="588.37" r="2.67" fill="#8888ff" stroke="#2424ff" stroke-width="0.9"/>
<circle cx="457.90" cy="588.37" r="2.67" fill="#8888ff" stroke="#2424ff" stroke-width="0.9"/>
<circle cx="399.90" cy="593.34" r="2.69" fill="#8888ff" stroke="#2424ff" stroke-width="0.9"/>
<circle cx="438.50" cy="593.34" r="2.69" fill="#8888ff" stroke="#2424ff" stroke-width="0.9"/>
<circle cx="452.60" cy="593.34" r="2.69" fill="#8888ff" stroke="#2424ff" stroke-width="0.9"/>
<circle cx="599.80" cy="548.58" r="2.70" fill="#8888ff" stroke="#2424ff" stroke-width="0.9"/>
<circle cx="503.90" cy="464.02" r="2.71" fill="#8888ff" stroke="#2424ff" stroke-width="0.9"/>
<circle cx="394.60" cy="598.32" r="2.72" fill="#8888ff" stroke="#2424ff" stroke-width="0.9"/>
<circle cx="433.40" cy="598.32" r="2.72" fill="#8888ff" stroke="#2424ff" stroke-width="0.9"/>
<circle cx="457.90" cy="598.32" r="2.72" fill="#8888ff" stroke="#2424ff" stroke-width="0.9"/>
<circle cx="419.30" cy="598.32" r="2.74" fill="#8888ff" stroke="#2424ff" stroke-width="0.9"/>
<circle cx="399.90" cy="603.29" r="2.75" fill="#8888ff" stroke="#2424ff" stroke-width="0.9"/>
<circle cx="438.50" cy="603.29" r="2.75" fill="#8888ff" stroke="#2424ff" stroke-width="0.9"/>
<circle cx="452.60" cy="603.29" r="2.75" fill="#8888ff" stroke="#2424ff" stroke-width="0.9"/>
<circle cx="414.00" cy="603.29" r="2.75" fill="#8888ff" stroke="#2424ff" stroke-width="0.9"/>
<circle cx="414.00" cy="593.34" r="2.76" fill="#8888ff" stroke="#2424ff" stroke-width="0.9"/>
<circle cx="503.90" cy="528.68" r="2.78" fill="#8888ff" stroke="#2424ff" stroke-width="0.9"/>
<circle cx="599.80" cy="598.32" r="2.78" fill="#8888ff" stroke="#2424ff" stroke-width="0.9"/>
<circle cx="594.50" cy="593.34" r="2.79" fill="#8888ff" stroke="#2424ff" stroke-width="0.9"/>
<circle cx="594.50" cy="603.29" r="2.79" fill="#8888ff" stroke="#2424ff" stroke-width="0.9"/>
<circle cx="509.20" cy="468.99" r="2.79" fill="#8888ff" stroke="#2424ff" stroke-width="0.9"/>
<circle cx="599.80" cy="588.37" r="2.80" fill="#8888ff" stroke="#2424ff" stroke-width="0.9"/>
<circle cx="414.00" cy="543.60" r="2.83" fill="#8888ff" stroke="#2424ff" stroke-width="0.9"/>
<circle cx="419.30" cy="588.37" r="2.84" fill="#8888ff" stroke="#2424ff" stroke-width="0.9"/>
<circle cx="594.50" cy="583.39" r="2.87" fill="#8888ff" stroke="#2424ff" stroke-width="0.9"/>
<circle cx="503.90" cy="473.97" r="2.90" fill="#8888ff" stroke="#2424ff" stroke-width="0.9"/>
<circle cx="419.30" cy="553.55" r="2.91" fill="#8888ff" stroke="#2424ff" stroke-width="0.9"/>
<circle cx="509.20" cy="533.65" r="2.94" fill="#8888ff" stroke="#2424ff" stroke-width="0.9"/>
<circle cx="419.30" cy="573.45" r="2.99" fill="#8888ff" stroke="#2424ff" stroke-width="0.9"/>
<circle cx="594.50" cy="553.55" r="3.00" fill="#8888ff" stroke="#2424ff" stroke-width="0.9"/>
<circle cx="599.80" cy="578.42" r="3.01" fill="#8888ff" stroke="#2424ff" stroke-width="0.9"/>
<circle cx="509.20" cy="478.94" r="3.02" fill="#8888ff" stroke="#2424ff" stroke-width="0.9"/>
<circle cx="414.00" cy="583.39" r="3.07" fill="#8888ff" stroke="#2424ff" stroke-width="0.9"/>
<circle cx="503.90" cy="538.63" r="3.07" fill="#8888ff" stroke="#2424ff" stroke-width="0.9"/>
<circle cx="503.90" cy="483.91" r="3.17" fill="#8888ff" stroke="#2424ff" stroke-width="0.9"/>
<circle cx="509.20" cy="543.60" r="3.18" fill="#8888ff" stroke="#2424ff" stroke-width="0.9"/>
<circle cx="594.50" cy="573.45" r="3.21" fill="#8888ff" stroke="#2424ff" stroke-width="0.9"/>
<circle cx="503.90" cy="548.58" r="3.26" fill="#8888ff" stroke="#2424ff" stroke-width="0.9"/>
<circle cx="419.30" cy="548.58" r="3.26" fill="#8888ff" stroke="#2424ff" stroke-width="0.9"/>
<circle cx="599.80" cy="558.52" r="3.29" fill="#8888ff" stroke="#2424ff" stroke-width="0.9"/>
<circle cx="509.20" cy="553.55" r="3.32" fill="#8888ff" stroke="#2424ff" stroke-width="0.9"/>
<circle cx="509.20" cy="488.89" r="3.33" fill="#8888ff" stroke="#2424ff" stroke-width="0.9"/>
<circle cx="503.90" cy="558.52" r="3.37" fill="#8888ff" stroke="#2424ff" stroke-width="0.9"/>
<circle cx="599.80" cy="568.47" r="3.40" fill="#8888ff" stroke="#2424ff" stroke-width="0.9"/>
<circle cx="509.20" cy="563.50" r="3.41" fill="#8888ff" stroke="#2424ff" stroke-width="0.9"/>
<circle cx="503.90" cy="568.47" r="3.43" fill="#8888ff" stroke="#2424ff" stroke-width="0.9"/>
<circle cx="594.50" cy="563.50" r="3.44" fill="#8888ff" stroke="#2424ff" stroke-width="0.9"/>
<circle cx="509.20" cy="573.45" r="3.45" fill="#8888ff" stroke="#2424ff" stroke-width="0.9"/>
<circle cx="419.30" cy="578.42" r="3.46" fill="#8888ff" stroke="#2424ff" stroke-width="0.9"/>
<circle cx="503.90" cy="578.42" r="3.46" fill="#8888ff" stroke="#2424ff" stroke-width="0.9"/>
<circle cx="509.20" cy="583.39" r="3.47" fill="#8888ff" stroke="#2424ff" stroke-width="0.9"/>
<circle cx="503.90" cy="588.37" r="3.48" fill="#8888ff" stroke="#2424ff" stroke-width="0.9"/>
<circle cx="509.20" cy="593.34" r="3.49" fill="#8888ff" stroke="#2424ff" stroke-width="0.9"/>
<circle cx="503.90" cy="598.32" r="3.49" fill="#8888ff" stroke="#2424ff" stroke-width="0.9"/>
<circle cx="503.90" cy="493.86" r="3.49" fill="#8888ff" stroke="#2424ff" stroke-width="0.9"/>
<circle cx="509.20" cy="603.29" r="3.49" fill="#8888ff" stroke="#2424ff" stroke-width="0.9"/>
<circle cx="414.00" cy="558.52" r="3.60" fill="#8888ff" stroke="#2424ff" stroke-width="0.9"/>
<circle cx="414.00" cy="568.47" r="3.65" fill="#8888ff" stroke="#2424ff" stroke-width="0.9"/>
<circle cx="509.20" cy="498.84" r="3.66" fill="#8888ff" stroke="#2424ff" stroke-width="0.9"/>
<circle cx="503.90" cy="503.81" r="3.81" fill="#8888ff" stroke="#2424ff" stroke-width="0.9"/>
<circle cx="414.00" cy="553.55" r="3.81" fill="#8888ff" stroke="#2424ff" stroke-width="0.9"/>
<circle cx="419.30" cy="563.50" r="3.89" fill="#8888ff" stroke="#2424ff" stroke-width="0.9"/>
<circle cx="509.20" cy="508.78" r="3.94" fill="#8888ff" stroke="#2424ff" stroke-width="0.9"/>
<circle cx="414.00" cy="573.45" r="3.95" fill="#8888ff" stroke="#2424ff" stroke-width="0.9"/>
<circle cx="503.90" cy="513.76" r="4.06" fill="#8888ff" stroke="#2424ff" stroke-width="0.9"/>
<circle cx="509.20" cy="518.73" r="4.15" fill="#8888ff" stroke="#2424ff" stroke-width="0.9"/>
<circle cx="503.90" cy="523.71" r="4.23" fill="#8888ff" stroke="#2424ff" stroke-width="0.9"/>
<circle cx="509.20" cy="528.68" r="4.29" fill="#8888ff" stroke="#2424ff" stroke-width="0.9"/>
<circle cx="419.30" cy="558.52" r="4.31" fill="#8888ff" stroke="#2424ff" stroke-width="0.9"/>
<circle cx="503.90" cy="533.65" r="4.33" fill="#8888ff" stroke="#2424ff" stroke-width="0.9"/>
<circle cx="509.20" cy="538.63" r="4.36" fill="#8888ff" stroke="#2424ff" stroke-width="0.9"/>
<circle cx="419.30" cy="568.47" r="4.38" fill="#8888ff" stroke="#2424ff" stroke-width="0.9"/>
<circle cx="503.90" cy="543.60" r="4.39" fill="#8888ff" stroke="#2424ff" stroke-width="0.9"/>
<circle cx="509.20" cy="548.58" r="4.40" fill="#8888ff" stroke="#2424ff" stroke-width="0.9"/>
<circle cx="503.90" cy="553.55" r="4.42" fill="#8888ff" stroke="#2424ff" stroke-width="0.9"/>
<circle cx="509.20" cy="558.52" r="4.43" fill="#8888ff" stroke="#2424ff" stroke-width="0.9"/>
<circle cx="503.90" cy="563.50" r="4.43" fill="#8888ff" stroke="#2424ff" stroke-width="0.9"/>
<circle cx="509.20" cy="568.47" r="4.44" fill="#8888ff" stroke="#2424ff" stroke-width="0.9"/>
<circle cx="503.90" cy="573.45" r="4.44" fill="#8888ff" stroke="#2424ff" stroke-width="0.9"/>
<circle cx="509.20" cy="578.42" r="4.44" fill="#8888ff" stroke="#2424ff" stroke-width="0.9"/>
<circle cx="503.90" cy="583.39" r="4.45" fill="#8888ff" stroke="#2424ff" stroke-width="0.9"/>
<circle cx="509.20" cy="588.37" r="4.45" fill="#8888ff" stroke="#2424ff" stroke-width="0.9"/>
<circle cx="503.90" cy="593.34" r="4.45" fill="#8888ff" stroke="#2424ff" stroke-width="0.9"/>
<circle cx="509.20" cy="598.32" r="4.45" fill="#8888ff" stroke="#2424ff" stroke-width="0.9"/>
<circle cx="503.90" cy="603.29" r="4.45" fill="#8888ff" stroke="#2424ff" stroke-width="0.9"/>
<circle cx="414.00" cy="563.50" r="4.53" fill="#8888ff" stroke="#2424ff" stroke-width="0.9"/>
<path d="M412.60,460.50 L419.40,467.30 M412.60,467.30 L419.40,460.50" stroke="#000" stroke-width="2.4"/>
<path d="M412.80,560.00 L419.60,566.80 M412.80,566.80 L419.60,560.00" stroke="#ff0000" stroke-width="2.4"/>
<path d="M502.50,460.50 L509.30,467.30 M502.50,467.30 L509.30,460.50" stroke="#000" stroke-width="2.4"/>
<path d="M502.70,560.00 L509.50,566.80 M502.70,566.80 L509.50,560.00" stroke="#ff0000" stroke-width="2.4"/>
<path d="M593.10,460.50 L599.90,467.30 M593.10,467.30 L599.90,460.50" stroke="#000" stroke-width="2.4"/>
<path d="M593.30,560.00 L600.10,566.80 M593.30,566.80 L600.10,560.00" stroke="#ff0000" stroke-width="2.4"/>
<path d="M655,429.7 A4.8,4.8 0 0 1 664.6,429.7 L660.2,603 L659.2,603 Z" fill="#7f7fff" stroke="#2a2aff" stroke-width="0.8"/>
<line x1="655.2" y1="429.5" x2="664.4" y2="429.5" stroke="#5050ff" stroke-width="0.7"/>
</svg></body></html>
